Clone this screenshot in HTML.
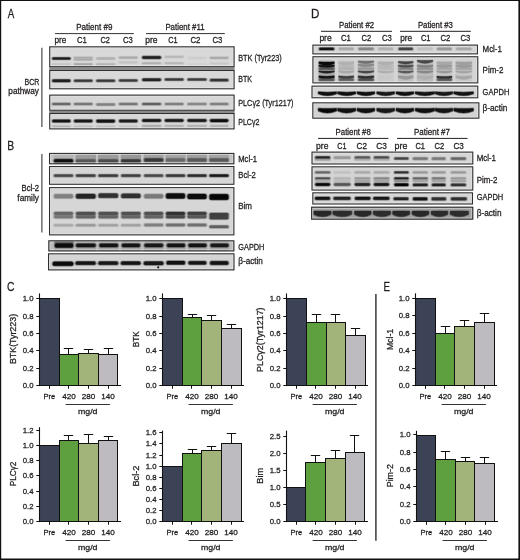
<!DOCTYPE html><html><head><meta charset="utf-8"><style>html,body{margin:0;padding:0;background:#fff;}svg{display:block;}</style></head><body>
<svg width="520" height="560" viewBox="0 0 520 560" style="will-change:transform" font-family='"Liberation Sans", sans-serif'>
<defs>
<filter id="bl80" color-interpolation-filters="sRGB" x="-20%" y="-50%" width="140%" height="200%"><feGaussianBlur stdDeviation="0.8"/></filter>
<filter id="bl90" color-interpolation-filters="sRGB" x="-20%" y="-50%" width="140%" height="200%"><feGaussianBlur stdDeviation="0.9"/></filter>
<filter id="bl100" color-interpolation-filters="sRGB" x="-20%" y="-50%" width="140%" height="200%"><feGaussianBlur stdDeviation="1.0"/></filter>
<filter id="bl120" color-interpolation-filters="sRGB" x="-20%" y="-50%" width="140%" height="200%"><feGaussianBlur stdDeviation="1.2"/></filter>
</defs>
<rect x="0.00" y="0.00" width="520.00" height="560.00" fill="#ffffff" stroke="none" stroke-width="0" />
<rect x="0.00" y="0.00" width="1.20" height="560.00" fill="#111" stroke="none" stroke-width="0" />
<rect x="0.00" y="0.00" width="520.00" height="1.00" fill="#111" stroke="none" stroke-width="0" />
<rect x="518.40" y="0.00" width="1.60" height="560.00" fill="#111" stroke="none" stroke-width="0" />
<rect x="0.00" y="558.50" width="520.00" height="1.50" fill="#111" stroke="none" stroke-width="0" />
<text x="7.80" y="17.60" font-size="12.2" text-anchor="start" fill="#231f20" stroke="#231f20" stroke-width="0.28"  textLength="6.50" lengthAdjust="spacingAndGlyphs">A</text>
<text x="7.20" y="150.20" font-size="12.2" text-anchor="start" fill="#231f20" stroke="#231f20" stroke-width="0.28"  textLength="6.90" lengthAdjust="spacingAndGlyphs">B</text>
<text x="7.00" y="291.00" font-size="12.2" text-anchor="start" fill="#231f20" stroke="#231f20" stroke-width="0.28"  textLength="7.50" lengthAdjust="spacingAndGlyphs">C</text>
<text x="310.90" y="17.60" font-size="12.2" text-anchor="start" fill="#231f20" stroke="#231f20" stroke-width="0.28"  textLength="8.40" lengthAdjust="spacingAndGlyphs">D</text>
<text x="383.60" y="290.80" font-size="12.2" text-anchor="start" fill="#231f20" stroke="#231f20" stroke-width="0.28"  textLength="6.50" lengthAdjust="spacingAndGlyphs">E</text>
<text x="94.35" y="30.30" font-size="8.5" text-anchor="middle" fill="#231f20" stroke="#231f20" stroke-width="0.28"  textLength="36.15" lengthAdjust="spacingAndGlyphs">Patient #9</text>
<text x="185.00" y="30.30" font-size="8.5" text-anchor="middle" fill="#231f20" stroke="#231f20" stroke-width="0.28"  textLength="39.25" lengthAdjust="spacingAndGlyphs">Patient #11</text>
<line x1="55.00" y1="33.60" x2="133.80" y2="33.60" stroke="#333" stroke-width="1"/>
<line x1="146.00" y1="33.60" x2="224.80" y2="33.60" stroke="#333" stroke-width="1"/>
<text x="60.50" y="43.10" font-size="8.5" text-anchor="middle" fill="#231f20" stroke="#231f20" stroke-width="0.28"  textLength="11.85" lengthAdjust="spacingAndGlyphs">pre</text>
<text x="81.80" y="43.10" font-size="8.5" text-anchor="middle" fill="#231f20" stroke="#231f20" stroke-width="0.28"  textLength="9.85" lengthAdjust="spacingAndGlyphs">C1</text>
<text x="105.10" y="43.10" font-size="8.5" text-anchor="middle" fill="#231f20" stroke="#231f20" stroke-width="0.28"  textLength="9.45" lengthAdjust="spacingAndGlyphs">C2</text>
<text x="128.00" y="43.10" font-size="8.5" text-anchor="middle" fill="#231f20" stroke="#231f20" stroke-width="0.28"  textLength="9.85" lengthAdjust="spacingAndGlyphs">C3</text>
<text x="151.30" y="43.10" font-size="8.5" text-anchor="middle" fill="#231f20" stroke="#231f20" stroke-width="0.28"  textLength="12.25" lengthAdjust="spacingAndGlyphs">pre</text>
<text x="173.00" y="43.10" font-size="8.5" text-anchor="middle" fill="#231f20" stroke="#231f20" stroke-width="0.28"  textLength="9.45" lengthAdjust="spacingAndGlyphs">C1</text>
<text x="195.40" y="43.10" font-size="8.5" text-anchor="middle" fill="#231f20" stroke="#231f20" stroke-width="0.28"  textLength="10.05" lengthAdjust="spacingAndGlyphs">C2</text>
<text x="217.40" y="43.10" font-size="8.5" text-anchor="middle" fill="#231f20" stroke="#231f20" stroke-width="0.28"  textLength="9.85" lengthAdjust="spacingAndGlyphs">C3</text>
<rect x="49.20" y="66.60" width="185.40" height="4.00" fill="#8a8a8a" stroke="none" stroke-width="0" />
<rect x="49.20" y="110.20" width="185.40" height="3.20" fill="#8a8a8a" stroke="none" stroke-width="0" />
<clipPath id="c1"><rect x="49.20" y="46.30" width="185.40" height="20.90"/></clipPath>
<rect x="49.20" y="46.30" width="185.40" height="20.90" fill="#d9d9d9" stroke="none" stroke-width="0" />
<g clip-path="url(#c1)"><g>
<rect x="51.00" y="56.40" width="20.70" height="4.20" rx="2.10" fill="#1a1a1a" opacity="0.22"/>
<rect x="51.70" y="56.90" width="19.30" height="3.20" rx="1.60" fill="#1a1a1a" opacity="0.45"/>
<rect x="52.50" y="57.40" width="17.70" height="2.20" rx="1.10" fill="#1a1a1a"/>
<rect x="72.80" y="56.00" width="20.90" height="3.20" rx="1.60" fill="#a8a8a8" opacity="0.22"/>
<rect x="73.50" y="56.50" width="19.50" height="2.20" rx="1.10" fill="#a8a8a8" opacity="0.45"/>
<rect x="74.30" y="57.00" width="17.90" height="1.20" rx="0.60" fill="#a8a8a8"/>
<rect x="95.10" y="56.40" width="21.10" height="4.20" rx="2.10" fill="#b0b0b0" opacity="0.22"/>
<rect x="95.80" y="56.90" width="19.70" height="3.20" rx="1.60" fill="#b0b0b0" opacity="0.45"/>
<rect x="96.60" y="57.40" width="18.10" height="2.20" rx="1.10" fill="#b0b0b0"/>
<rect x="117.80" y="55.70" width="20.90" height="3.80" rx="1.90" fill="#a8a8a8" opacity="0.22"/>
<rect x="118.50" y="56.20" width="19.50" height="2.80" rx="1.40" fill="#a8a8a8" opacity="0.45"/>
<rect x="119.30" y="56.70" width="17.90" height="1.80" rx="0.90" fill="#a8a8a8"/>
<rect x="141.00" y="55.30" width="21.20" height="4.40" rx="2.20" fill="#202020" opacity="0.22"/>
<rect x="141.70" y="55.80" width="19.80" height="3.40" rx="1.70" fill="#202020" opacity="0.45"/>
<rect x="142.50" y="56.30" width="18.20" height="2.40" rx="1.20" fill="#202020"/>
<rect x="163.60" y="55.10" width="21.10" height="3.60" rx="1.80" fill="#b8b8b8" opacity="0.22"/>
<rect x="164.30" y="55.60" width="19.70" height="2.60" rx="1.30" fill="#b8b8b8" opacity="0.45"/>
<rect x="165.10" y="56.10" width="18.10" height="1.60" rx="0.80" fill="#b8b8b8"/>
<rect x="186.30" y="56.30" width="21.40" height="3.40" rx="1.70" fill="#cccccc" opacity="0.22"/>
<rect x="187.00" y="56.80" width="20.00" height="2.40" rx="1.20" fill="#cccccc" opacity="0.45"/>
<rect x="187.80" y="57.30" width="18.40" height="1.40" rx="0.70" fill="#cccccc"/>
<rect x="208.80" y="55.90" width="20.70" height="3.80" rx="1.90" fill="#a8a8a8" opacity="0.22"/>
<rect x="209.50" y="56.40" width="19.30" height="2.80" rx="1.40" fill="#a8a8a8" opacity="0.45"/>
<rect x="210.30" y="56.90" width="17.70" height="1.80" rx="0.90" fill="#a8a8a8"/>
<rect x="72.80" y="57.95" width="20.90" height="3.30" rx="1.65" fill="#a8a8a8" opacity="0.22"/>
<rect x="73.50" y="58.45" width="19.50" height="2.30" rx="1.15" fill="#a8a8a8" opacity="0.45"/>
<rect x="74.30" y="58.95" width="17.90" height="1.30" rx="0.65" fill="#a8a8a8"/>
<rect x="51.00" y="62.40" width="20.70" height="3.60" rx="1.80" fill="#c4c4c4" opacity="0.22"/>
<rect x="51.70" y="62.90" width="19.30" height="2.60" rx="1.30" fill="#c4c4c4" opacity="0.45"/>
<rect x="52.50" y="63.40" width="17.70" height="1.60" rx="0.80" fill="#c4c4c4"/>
<rect x="72.80" y="62.40" width="20.90" height="3.60" rx="1.80" fill="#a8a8a8" opacity="0.22"/>
<rect x="73.50" y="62.90" width="19.50" height="2.60" rx="1.30" fill="#a8a8a8" opacity="0.45"/>
<rect x="74.30" y="63.40" width="17.90" height="1.60" rx="0.80" fill="#a8a8a8"/>
<rect x="95.10" y="62.40" width="21.10" height="3.60" rx="1.80" fill="#b4b4b4" opacity="0.22"/>
<rect x="95.80" y="62.90" width="19.70" height="2.60" rx="1.30" fill="#b4b4b4" opacity="0.45"/>
<rect x="96.60" y="63.40" width="18.10" height="1.60" rx="0.80" fill="#b4b4b4"/>
<rect x="117.80" y="60.60" width="20.90" height="3.60" rx="1.80" fill="#c4c4c4" opacity="0.22"/>
<rect x="118.50" y="61.10" width="19.50" height="2.60" rx="1.30" fill="#c4c4c4" opacity="0.45"/>
<rect x="119.30" y="61.60" width="17.90" height="1.60" rx="0.80" fill="#c4c4c4"/>
<rect x="141.00" y="61.40" width="21.20" height="3.60" rx="1.80" fill="#b0b0b0" opacity="0.22"/>
<rect x="141.70" y="61.90" width="19.80" height="2.60" rx="1.30" fill="#b0b0b0" opacity="0.45"/>
<rect x="142.50" y="62.40" width="18.20" height="1.60" rx="0.80" fill="#b0b0b0"/>
<rect x="163.60" y="61.40" width="21.10" height="3.60" rx="1.80" fill="#b8b8b8" opacity="0.22"/>
<rect x="164.30" y="61.90" width="19.70" height="2.60" rx="1.30" fill="#b8b8b8" opacity="0.45"/>
<rect x="165.10" y="62.40" width="18.10" height="1.60" rx="0.80" fill="#b8b8b8"/>
<rect x="186.30" y="62.50" width="21.40" height="3.40" rx="1.70" fill="#d0d0d0" opacity="0.22"/>
<rect x="187.00" y="63.00" width="20.00" height="2.40" rx="1.20" fill="#d0d0d0" opacity="0.45"/>
<rect x="187.80" y="63.50" width="18.40" height="1.40" rx="0.70" fill="#d0d0d0"/>
<rect x="208.80" y="61.80" width="20.70" height="3.40" rx="1.70" fill="#c8c8c8" opacity="0.22"/>
<rect x="209.50" y="62.30" width="19.30" height="2.40" rx="1.20" fill="#c8c8c8" opacity="0.45"/>
<rect x="210.30" y="62.80" width="17.70" height="1.40" rx="0.70" fill="#c8c8c8"/>
</g></g>
<rect x="50.75" y="47.85" width="182.30" height="17.80" fill="none" stroke="#ececec" stroke-width="0.9" opacity="0.6"/>
<rect x="49.73" y="46.82" width="184.35" height="19.85" fill="none" stroke="#303030" stroke-width="1.05" />
<clipPath id="c2"><rect x="49.20" y="70.00" width="185.40" height="19.30"/></clipPath>
<rect x="49.20" y="70.00" width="185.40" height="19.30" fill="#d9d9d9" stroke="none" stroke-width="0" />
<g clip-path="url(#c2)"><g>
<rect x="51.00" y="78.40" width="20.70" height="4.60" rx="2.30" fill="#202020" opacity="0.22"/>
<rect x="51.70" y="78.90" width="19.30" height="3.60" rx="1.80" fill="#202020" opacity="0.45"/>
<rect x="52.50" y="79.40" width="17.70" height="2.60" rx="1.30" fill="#202020"/>
<rect x="72.80" y="78.70" width="20.90" height="4.00" rx="2.00" fill="#383838" opacity="0.22"/>
<rect x="73.50" y="79.20" width="19.50" height="3.00" rx="1.50" fill="#383838" opacity="0.45"/>
<rect x="74.30" y="79.70" width="17.90" height="2.00" rx="1.00" fill="#383838"/>
<rect x="95.10" y="78.70" width="21.10" height="4.00" rx="2.00" fill="#383838" opacity="0.22"/>
<rect x="95.80" y="79.20" width="19.70" height="3.00" rx="1.50" fill="#383838" opacity="0.45"/>
<rect x="96.60" y="79.70" width="18.10" height="2.00" rx="1.00" fill="#383838"/>
<rect x="117.80" y="78.40" width="20.90" height="4.00" rx="2.00" fill="#3a3a3a" opacity="0.22"/>
<rect x="118.50" y="78.90" width="19.50" height="3.00" rx="1.50" fill="#3a3a3a" opacity="0.45"/>
<rect x="119.30" y="79.40" width="17.90" height="2.00" rx="1.00" fill="#3a3a3a"/>
<rect x="141.00" y="77.40" width="21.20" height="4.60" rx="2.30" fill="#242424" opacity="0.22"/>
<rect x="141.70" y="77.90" width="19.80" height="3.60" rx="1.80" fill="#242424" opacity="0.45"/>
<rect x="142.50" y="78.40" width="18.20" height="2.60" rx="1.30" fill="#242424"/>
<rect x="163.60" y="77.40" width="21.10" height="4.00" rx="2.00" fill="#383838" opacity="0.22"/>
<rect x="164.30" y="77.90" width="19.70" height="3.00" rx="1.50" fill="#383838" opacity="0.45"/>
<rect x="165.10" y="78.40" width="18.10" height="2.00" rx="1.00" fill="#383838"/>
<rect x="186.30" y="77.60" width="21.40" height="4.00" rx="2.00" fill="#3c3c3c" opacity="0.22"/>
<rect x="187.00" y="78.10" width="20.00" height="3.00" rx="1.50" fill="#3c3c3c" opacity="0.45"/>
<rect x="187.80" y="78.60" width="18.40" height="2.00" rx="1.00" fill="#3c3c3c"/>
<rect x="208.80" y="78.10" width="20.70" height="4.20" rx="2.10" fill="#343434" opacity="0.22"/>
<rect x="209.50" y="78.60" width="19.30" height="3.20" rx="1.60" fill="#343434" opacity="0.45"/>
<rect x="210.30" y="79.10" width="17.70" height="2.20" rx="1.10" fill="#343434"/>
</g></g>
<rect x="50.75" y="71.55" width="182.30" height="16.20" fill="none" stroke="#ececec" stroke-width="0.9" opacity="0.6"/>
<rect x="49.73" y="70.53" width="184.35" height="18.25" fill="none" stroke="#303030" stroke-width="1.05" />
<clipPath id="c3"><rect x="49.20" y="94.60" width="185.40" height="16.20"/></clipPath>
<rect x="49.20" y="94.60" width="185.40" height="16.20" fill="#d6d6d6" stroke="none" stroke-width="0" />
<g clip-path="url(#c3)"><g>
<rect x="51.00" y="101.90" width="20.70" height="4.00" rx="2.00" fill="#6a6a6a" opacity="0.22"/>
<rect x="51.70" y="102.40" width="19.30" height="3.00" rx="1.50" fill="#6a6a6a" opacity="0.45"/>
<rect x="52.50" y="102.90" width="17.70" height="2.00" rx="1.00" fill="#6a6a6a"/>
<rect x="72.80" y="101.90" width="20.90" height="4.00" rx="2.00" fill="#787878" opacity="0.22"/>
<rect x="73.50" y="102.40" width="19.50" height="3.00" rx="1.50" fill="#787878" opacity="0.45"/>
<rect x="74.30" y="102.90" width="17.90" height="2.00" rx="1.00" fill="#787878"/>
<rect x="95.10" y="102.40" width="21.10" height="4.00" rx="2.00" fill="#808080" opacity="0.22"/>
<rect x="95.80" y="102.90" width="19.70" height="3.00" rx="1.50" fill="#808080" opacity="0.45"/>
<rect x="96.60" y="103.40" width="18.10" height="2.00" rx="1.00" fill="#808080"/>
<rect x="117.80" y="101.90" width="20.90" height="4.00" rx="2.00" fill="#787878" opacity="0.22"/>
<rect x="118.50" y="102.40" width="19.50" height="3.00" rx="1.50" fill="#787878" opacity="0.45"/>
<rect x="119.30" y="102.90" width="17.90" height="2.00" rx="1.00" fill="#787878"/>
<rect x="141.00" y="101.90" width="21.20" height="4.00" rx="2.00" fill="#606060" opacity="0.22"/>
<rect x="141.70" y="102.40" width="19.80" height="3.00" rx="1.50" fill="#606060" opacity="0.45"/>
<rect x="142.50" y="102.90" width="18.20" height="2.00" rx="1.00" fill="#606060"/>
<rect x="163.60" y="101.90" width="21.10" height="4.00" rx="2.00" fill="#808080" opacity="0.22"/>
<rect x="164.30" y="102.40" width="19.70" height="3.00" rx="1.50" fill="#808080" opacity="0.45"/>
<rect x="165.10" y="102.90" width="18.10" height="2.00" rx="1.00" fill="#808080"/>
<rect x="186.30" y="101.90" width="21.40" height="4.00" rx="2.00" fill="#888888" opacity="0.22"/>
<rect x="187.00" y="102.40" width="20.00" height="3.00" rx="1.50" fill="#888888" opacity="0.45"/>
<rect x="187.80" y="102.90" width="18.40" height="2.00" rx="1.00" fill="#888888"/>
<rect x="208.80" y="101.90" width="20.70" height="4.00" rx="2.00" fill="#808080" opacity="0.22"/>
<rect x="209.50" y="102.40" width="19.30" height="3.00" rx="1.50" fill="#808080" opacity="0.45"/>
<rect x="210.30" y="102.90" width="17.70" height="2.00" rx="1.00" fill="#808080"/>
</g></g>
<rect x="50.75" y="96.15" width="182.30" height="13.10" fill="none" stroke="#ececec" stroke-width="0.9" opacity="0.6"/>
<rect x="49.73" y="95.12" width="184.35" height="15.15" fill="none" stroke="#303030" stroke-width="1.05" />
<clipPath id="c4"><rect x="49.20" y="113.00" width="185.40" height="16.40"/></clipPath>
<rect x="49.20" y="113.00" width="185.40" height="16.40" fill="#d8d8d8" stroke="none" stroke-width="0" />
<g clip-path="url(#c4)"><g>
<rect x="51.00" y="118.65" width="20.70" height="4.50" rx="2.25" fill="#141414" opacity="0.22"/>
<rect x="51.70" y="119.15" width="19.30" height="3.50" rx="1.75" fill="#141414" opacity="0.45"/>
<rect x="52.50" y="119.65" width="17.70" height="2.50" rx="1.25" fill="#141414"/>
<rect x="72.80" y="118.65" width="20.90" height="4.50" rx="2.25" fill="#181818" opacity="0.22"/>
<rect x="73.50" y="119.15" width="19.50" height="3.50" rx="1.75" fill="#181818" opacity="0.45"/>
<rect x="74.30" y="119.65" width="17.90" height="2.50" rx="1.25" fill="#181818"/>
<rect x="95.10" y="118.70" width="21.10" height="4.80" rx="2.40" fill="#141414" opacity="0.22"/>
<rect x="95.80" y="119.20" width="19.70" height="3.80" rx="1.90" fill="#141414" opacity="0.45"/>
<rect x="96.60" y="119.70" width="18.10" height="2.80" rx="1.40" fill="#141414"/>
<rect x="117.80" y="118.65" width="20.90" height="4.50" rx="2.25" fill="#1c1c1c" opacity="0.22"/>
<rect x="118.50" y="119.15" width="19.50" height="3.50" rx="1.75" fill="#1c1c1c" opacity="0.45"/>
<rect x="119.30" y="119.65" width="17.90" height="2.50" rx="1.25" fill="#1c1c1c"/>
<rect x="141.00" y="118.15" width="21.20" height="4.50" rx="2.25" fill="#141414" opacity="0.22"/>
<rect x="141.70" y="118.65" width="19.80" height="3.50" rx="1.75" fill="#141414" opacity="0.45"/>
<rect x="142.50" y="119.15" width="18.20" height="2.50" rx="1.25" fill="#141414"/>
<rect x="163.60" y="118.15" width="21.10" height="4.50" rx="2.25" fill="#181818" opacity="0.22"/>
<rect x="164.30" y="118.65" width="19.70" height="3.50" rx="1.75" fill="#181818" opacity="0.45"/>
<rect x="165.10" y="119.15" width="18.10" height="2.50" rx="1.25" fill="#181818"/>
<rect x="186.30" y="118.15" width="21.40" height="4.50" rx="2.25" fill="#1a1a1a" opacity="0.22"/>
<rect x="187.00" y="118.65" width="20.00" height="3.50" rx="1.75" fill="#1a1a1a" opacity="0.45"/>
<rect x="187.80" y="119.15" width="18.40" height="2.50" rx="1.25" fill="#1a1a1a"/>
<rect x="208.80" y="118.15" width="20.70" height="4.90" rx="2.45" fill="#101010" opacity="0.22"/>
<rect x="209.50" y="118.65" width="19.30" height="3.90" rx="1.95" fill="#101010" opacity="0.45"/>
<rect x="210.30" y="119.15" width="17.70" height="2.90" rx="1.45" fill="#101010"/>
<rect x="51.00" y="124.85" width="20.70" height="3.50" rx="1.75" fill="#b4b4b4" opacity="0.22"/>
<rect x="51.70" y="125.35" width="19.30" height="2.50" rx="1.25" fill="#b4b4b4" opacity="0.45"/>
<rect x="52.50" y="125.85" width="17.70" height="1.50" rx="0.75" fill="#b4b4b4"/>
<rect x="72.80" y="124.85" width="20.90" height="3.50" rx="1.75" fill="#c0c0c0" opacity="0.22"/>
<rect x="73.50" y="125.35" width="19.50" height="2.50" rx="1.25" fill="#c0c0c0" opacity="0.45"/>
<rect x="74.30" y="125.85" width="17.90" height="1.50" rx="0.75" fill="#c0c0c0"/>
<rect x="95.10" y="124.85" width="21.10" height="3.50" rx="1.75" fill="#c0c0c0" opacity="0.22"/>
<rect x="95.80" y="125.35" width="19.70" height="2.50" rx="1.25" fill="#c0c0c0" opacity="0.45"/>
<rect x="96.60" y="125.85" width="18.10" height="1.50" rx="0.75" fill="#c0c0c0"/>
<rect x="117.80" y="124.85" width="20.90" height="3.50" rx="1.75" fill="#c4c4c4" opacity="0.22"/>
<rect x="118.50" y="125.35" width="19.50" height="2.50" rx="1.25" fill="#c4c4c4" opacity="0.45"/>
<rect x="119.30" y="125.85" width="17.90" height="1.50" rx="0.75" fill="#c4c4c4"/>
<rect x="141.00" y="124.25" width="21.20" height="3.50" rx="1.75" fill="#a8a8a8" opacity="0.22"/>
<rect x="141.70" y="124.75" width="19.80" height="2.50" rx="1.25" fill="#a8a8a8" opacity="0.45"/>
<rect x="142.50" y="125.25" width="18.20" height="1.50" rx="0.75" fill="#a8a8a8"/>
<rect x="163.60" y="124.25" width="21.10" height="3.50" rx="1.75" fill="#b0b0b0" opacity="0.22"/>
<rect x="164.30" y="124.75" width="19.70" height="2.50" rx="1.25" fill="#b0b0b0" opacity="0.45"/>
<rect x="165.10" y="125.25" width="18.10" height="1.50" rx="0.75" fill="#b0b0b0"/>
<rect x="186.30" y="124.25" width="21.40" height="3.50" rx="1.75" fill="#b0b0b0" opacity="0.22"/>
<rect x="187.00" y="124.75" width="20.00" height="2.50" rx="1.25" fill="#b0b0b0" opacity="0.45"/>
<rect x="187.80" y="125.25" width="18.40" height="1.50" rx="0.75" fill="#b0b0b0"/>
<rect x="208.80" y="124.25" width="20.70" height="3.50" rx="1.75" fill="#b0b0b0" opacity="0.22"/>
<rect x="209.50" y="124.75" width="19.30" height="2.50" rx="1.25" fill="#b0b0b0" opacity="0.45"/>
<rect x="210.30" y="125.25" width="17.70" height="1.50" rx="0.75" fill="#b0b0b0"/>
</g></g>
<rect x="50.75" y="114.55" width="182.30" height="13.30" fill="none" stroke="#ececec" stroke-width="0.9" opacity="0.6"/>
<rect x="49.73" y="113.53" width="184.35" height="15.35" fill="none" stroke="#303030" stroke-width="1.05" />
<line x1="41.90" y1="47.80" x2="41.90" y2="126.90" stroke="#4a4a4a" stroke-width="1.2"/>
<text x="39.42" y="84.70" font-size="8.5" text-anchor="end" fill="#231f20" stroke="#231f20" stroke-width="0.28"  textLength="14.85" lengthAdjust="spacingAndGlyphs">BCR</text>
<text x="38.92" y="94.30" font-size="8.5" text-anchor="end" fill="#231f20" stroke="#231f20" stroke-width="0.28"  textLength="30.55" lengthAdjust="spacingAndGlyphs">pathway</text>
<text x="238.17" y="61.00" font-size="8.5" text-anchor="start" fill="#231f20" stroke="#231f20" stroke-width="0.28"  textLength="43.65" lengthAdjust="spacingAndGlyphs">BTK (Tyr223)</text>
<text x="238.17" y="82.20" font-size="8.5" text-anchor="start" fill="#231f20" stroke="#231f20" stroke-width="0.28"  textLength="13.85" lengthAdjust="spacingAndGlyphs">BTK</text>
<text x="238.17" y="106.00" font-size="8.5" text-anchor="start" fill="#231f20" stroke="#231f20" stroke-width="0.28"  textLength="55.25" lengthAdjust="spacingAndGlyphs">PLCγ2 (Tyr1217)</text>
<text x="238.17" y="124.50" font-size="8.5" text-anchor="start" fill="#231f20" stroke="#231f20" stroke-width="0.28"  textLength="21.25" lengthAdjust="spacingAndGlyphs">PLCγ2</text>
<clipPath id="c5"><rect x="49.00" y="152.90" width="185.40" height="11.40"/></clipPath>
<rect x="49.00" y="152.90" width="185.40" height="11.40" fill="#c4c4c4" stroke="none" stroke-width="0" />
<g clip-path="url(#c5)"><g>
<rect x="53.50" y="152.90" width="20.00" height="11.40" fill="#b4b4b4" stroke="none" stroke-width="0" rx="2"/>
<rect x="75.50" y="152.90" width="20.50" height="11.40" fill="#9c9c9c" stroke="none" stroke-width="0" rx="2"/>
<rect x="98.00" y="152.90" width="20.50" height="11.40" fill="#9c9c9c" stroke="none" stroke-width="0" rx="2"/>
<rect x="120.80" y="152.90" width="20.20" height="11.40" fill="#989898" stroke="none" stroke-width="0" rx="2"/>
<rect x="143.70" y="152.90" width="19.90" height="11.40" fill="#a0a0a0" stroke="none" stroke-width="0" rx="2"/>
<rect x="165.50" y="152.90" width="20.00" height="11.40" fill="#a4a4a4" stroke="none" stroke-width="0" rx="2"/>
<rect x="187.00" y="152.90" width="20.00" height="11.40" fill="#a0a0a0" stroke="none" stroke-width="0" rx="2"/>
<rect x="209.00" y="152.90" width="20.00" height="11.40" fill="#a4a4a4" stroke="none" stroke-width="0" rx="2"/>
<rect x="52.70" y="158.30" width="21.60" height="5.60" rx="2.80" fill="#101010" opacity="0.22"/>
<rect x="53.40" y="158.80" width="20.20" height="4.60" rx="2.30" fill="#101010" opacity="0.45"/>
<rect x="54.20" y="159.30" width="18.60" height="3.60" rx="1.50" fill="#101010"/>
<rect x="74.70" y="158.40" width="22.10" height="5.00" rx="2.50" fill="#585858" opacity="0.22"/>
<rect x="75.40" y="158.90" width="20.70" height="4.00" rx="2.00" fill="#585858" opacity="0.45"/>
<rect x="76.20" y="159.40" width="19.10" height="3.00" rx="1.50" fill="#585858"/>
<rect x="97.20" y="158.40" width="22.10" height="5.00" rx="2.50" fill="#4c4c4c" opacity="0.22"/>
<rect x="97.90" y="158.90" width="20.70" height="4.00" rx="2.00" fill="#4c4c4c" opacity="0.45"/>
<rect x="98.70" y="159.40" width="19.10" height="3.00" rx="1.50" fill="#4c4c4c"/>
<rect x="120.00" y="158.40" width="21.80" height="5.00" rx="2.50" fill="#383838" opacity="0.22"/>
<rect x="120.70" y="158.90" width="20.40" height="4.00" rx="2.00" fill="#383838" opacity="0.45"/>
<rect x="121.50" y="159.40" width="18.80" height="3.00" rx="1.50" fill="#383838"/>
<rect x="142.90" y="157.60" width="21.50" height="5.00" rx="2.50" fill="#383838" opacity="0.22"/>
<rect x="143.60" y="158.10" width="20.10" height="4.00" rx="2.00" fill="#383838" opacity="0.45"/>
<rect x="144.40" y="158.60" width="18.50" height="3.00" rx="1.50" fill="#383838"/>
<rect x="164.70" y="157.60" width="21.60" height="5.00" rx="2.50" fill="#686868" opacity="0.22"/>
<rect x="165.40" y="158.10" width="20.20" height="4.00" rx="2.00" fill="#686868" opacity="0.45"/>
<rect x="166.20" y="158.60" width="18.60" height="3.00" rx="1.50" fill="#686868"/>
<rect x="186.20" y="157.60" width="21.60" height="5.00" rx="2.50" fill="#585858" opacity="0.22"/>
<rect x="186.90" y="158.10" width="20.20" height="4.00" rx="2.00" fill="#585858" opacity="0.45"/>
<rect x="187.70" y="158.60" width="18.60" height="3.00" rx="1.50" fill="#585858"/>
<rect x="208.20" y="157.60" width="21.60" height="5.00" rx="2.50" fill="#585858" opacity="0.22"/>
<rect x="208.90" y="158.10" width="20.20" height="4.00" rx="2.00" fill="#585858" opacity="0.45"/>
<rect x="209.70" y="158.60" width="18.60" height="3.00" rx="1.50" fill="#585858"/>
</g></g>
<rect x="50.55" y="154.45" width="182.30" height="8.30" fill="none" stroke="#ececec" stroke-width="0.9" opacity="0.6"/>
<rect x="49.52" y="153.43" width="184.35" height="10.35" fill="none" stroke="#303030" stroke-width="1.05" />
<clipPath id="c6"><rect x="49.00" y="166.00" width="185.40" height="18.80"/></clipPath>
<rect x="49.00" y="166.00" width="185.40" height="18.80" fill="#d6d6d6" stroke="none" stroke-width="0" />
<g clip-path="url(#c6)"><g>
<rect x="52.70" y="173.60" width="21.60" height="4.20" rx="2.10" fill="#484848" opacity="0.22"/>
<rect x="53.40" y="174.10" width="20.20" height="3.20" rx="1.60" fill="#484848" opacity="0.45"/>
<rect x="54.20" y="174.60" width="18.60" height="2.20" rx="1.10" fill="#484848"/>
<rect x="74.70" y="173.60" width="22.10" height="4.20" rx="2.10" fill="#404040" opacity="0.22"/>
<rect x="75.40" y="174.10" width="20.70" height="3.20" rx="1.60" fill="#404040" opacity="0.45"/>
<rect x="76.20" y="174.60" width="19.10" height="2.20" rx="1.10" fill="#404040"/>
<rect x="97.20" y="173.60" width="22.10" height="4.20" rx="2.10" fill="#3c3c3c" opacity="0.22"/>
<rect x="97.90" y="174.10" width="20.70" height="3.20" rx="1.60" fill="#3c3c3c" opacity="0.45"/>
<rect x="98.70" y="174.60" width="19.10" height="2.20" rx="1.10" fill="#3c3c3c"/>
<rect x="120.00" y="173.60" width="21.80" height="4.20" rx="2.10" fill="#404040" opacity="0.22"/>
<rect x="120.70" y="174.10" width="20.40" height="3.20" rx="1.60" fill="#404040" opacity="0.45"/>
<rect x="121.50" y="174.60" width="18.80" height="2.20" rx="1.10" fill="#404040"/>
<rect x="142.90" y="173.60" width="21.50" height="4.20" rx="2.10" fill="#484848" opacity="0.22"/>
<rect x="143.60" y="174.10" width="20.10" height="3.20" rx="1.60" fill="#484848" opacity="0.45"/>
<rect x="144.40" y="174.60" width="18.50" height="2.20" rx="1.10" fill="#484848"/>
<rect x="164.70" y="173.60" width="21.60" height="4.20" rx="2.10" fill="#383838" opacity="0.22"/>
<rect x="165.40" y="174.10" width="20.20" height="3.20" rx="1.60" fill="#383838" opacity="0.45"/>
<rect x="166.20" y="174.60" width="18.60" height="2.20" rx="1.10" fill="#383838"/>
<rect x="186.20" y="173.60" width="21.60" height="4.20" rx="2.10" fill="#2c2c2c" opacity="0.22"/>
<rect x="186.90" y="174.10" width="20.20" height="3.20" rx="1.60" fill="#2c2c2c" opacity="0.45"/>
<rect x="187.70" y="174.60" width="18.60" height="2.20" rx="1.10" fill="#2c2c2c"/>
<rect x="208.20" y="173.60" width="21.60" height="4.20" rx="2.10" fill="#181818" opacity="0.22"/>
<rect x="208.90" y="174.10" width="20.20" height="3.20" rx="1.60" fill="#181818" opacity="0.45"/>
<rect x="209.70" y="174.60" width="18.60" height="2.20" rx="1.10" fill="#181818"/>
</g></g>
<rect x="50.55" y="167.55" width="182.30" height="15.70" fill="none" stroke="#ececec" stroke-width="0.9" opacity="0.6"/>
<rect x="49.52" y="166.53" width="184.35" height="17.75" fill="none" stroke="#303030" stroke-width="1.05" />
<clipPath id="c7"><rect x="49.00" y="187.10" width="185.40" height="48.30"/></clipPath>
<rect x="49.00" y="187.10" width="185.40" height="48.30" fill="#d6d6d6" stroke="none" stroke-width="0" />
<g clip-path="url(#c7)"><g>
<rect x="52.70" y="193.20" width="21.60" height="6.00" rx="3.00" fill="#808080" opacity="0.22"/>
<rect x="53.40" y="193.70" width="20.20" height="5.00" rx="2.50" fill="#808080" opacity="0.45"/>
<rect x="54.20" y="194.20" width="18.60" height="4.00" rx="1.50" fill="#808080"/>
<rect x="74.70" y="193.00" width="22.10" height="6.40" rx="3.00" fill="#242424" opacity="0.22"/>
<rect x="75.40" y="193.50" width="20.70" height="5.40" rx="2.70" fill="#242424" opacity="0.45"/>
<rect x="76.20" y="194.00" width="19.10" height="4.40" rx="1.50" fill="#242424"/>
<rect x="97.20" y="192.60" width="22.10" height="6.20" rx="3.00" fill="#303030" opacity="0.22"/>
<rect x="97.90" y="193.10" width="20.70" height="5.20" rx="2.60" fill="#303030" opacity="0.45"/>
<rect x="98.70" y="193.60" width="19.10" height="4.20" rx="1.50" fill="#303030"/>
<rect x="120.00" y="192.80" width="21.80" height="6.20" rx="3.00" fill="#303030" opacity="0.22"/>
<rect x="120.70" y="193.30" width="20.40" height="5.20" rx="2.60" fill="#303030" opacity="0.45"/>
<rect x="121.50" y="193.80" width="18.80" height="4.20" rx="1.50" fill="#303030"/>
<rect x="142.90" y="193.20" width="21.50" height="6.00" rx="3.00" fill="#787878" opacity="0.22"/>
<rect x="143.60" y="193.70" width="20.10" height="5.00" rx="2.50" fill="#787878" opacity="0.45"/>
<rect x="144.40" y="194.20" width="18.50" height="4.00" rx="1.50" fill="#787878"/>
<rect x="164.70" y="192.40" width="21.60" height="7.00" rx="3.00" fill="#0c0c0c" opacity="0.22"/>
<rect x="165.40" y="192.90" width="20.20" height="6.00" rx="3.00" fill="#0c0c0c" opacity="0.45"/>
<rect x="166.20" y="193.40" width="18.60" height="5.00" rx="1.50" fill="#0c0c0c"/>
<rect x="186.20" y="193.00" width="21.60" height="7.00" rx="3.00" fill="#0c0c0c" opacity="0.22"/>
<rect x="186.90" y="193.50" width="20.20" height="6.00" rx="3.00" fill="#0c0c0c" opacity="0.45"/>
<rect x="187.70" y="194.00" width="18.60" height="5.00" rx="1.50" fill="#0c0c0c"/>
<rect x="208.20" y="193.20" width="21.60" height="7.60" rx="3.00" fill="#060606" opacity="0.22"/>
<rect x="208.90" y="193.70" width="20.20" height="6.60" rx="3.00" fill="#060606" opacity="0.45"/>
<rect x="209.70" y="194.20" width="18.60" height="5.60" rx="1.50" fill="#060606"/>
<rect x="52.70" y="211.10" width="21.60" height="5.00" rx="2.50" fill="#666666" opacity="0.22"/>
<rect x="53.40" y="211.60" width="20.20" height="4.00" rx="2.00" fill="#666666" opacity="0.45"/>
<rect x="54.20" y="212.10" width="18.60" height="3.00" rx="1.50" fill="#666666"/>
<rect x="74.70" y="211.10" width="22.10" height="5.00" rx="2.50" fill="#505050" opacity="0.22"/>
<rect x="75.40" y="211.60" width="20.70" height="4.00" rx="2.00" fill="#505050" opacity="0.45"/>
<rect x="76.20" y="212.10" width="19.10" height="3.00" rx="1.50" fill="#505050"/>
<rect x="97.20" y="211.10" width="22.10" height="5.00" rx="2.50" fill="#505050" opacity="0.22"/>
<rect x="97.90" y="211.60" width="20.70" height="4.00" rx="2.00" fill="#505050" opacity="0.45"/>
<rect x="98.70" y="212.10" width="19.10" height="3.00" rx="1.50" fill="#505050"/>
<rect x="120.00" y="211.10" width="21.80" height="5.00" rx="2.50" fill="#505050" opacity="0.22"/>
<rect x="120.70" y="211.60" width="20.40" height="4.00" rx="2.00" fill="#505050" opacity="0.45"/>
<rect x="121.50" y="212.10" width="18.80" height="3.00" rx="1.50" fill="#505050"/>
<rect x="142.90" y="211.10" width="21.50" height="5.00" rx="2.50" fill="#505050" opacity="0.22"/>
<rect x="143.60" y="211.60" width="20.10" height="4.00" rx="2.00" fill="#505050" opacity="0.45"/>
<rect x="144.40" y="212.10" width="18.50" height="3.00" rx="1.50" fill="#505050"/>
<rect x="164.70" y="211.10" width="21.60" height="5.00" rx="2.50" fill="#303030" opacity="0.22"/>
<rect x="165.40" y="211.60" width="20.20" height="4.00" rx="2.00" fill="#303030" opacity="0.45"/>
<rect x="166.20" y="212.10" width="18.60" height="3.00" rx="1.50" fill="#303030"/>
<rect x="186.20" y="211.10" width="21.60" height="5.00" rx="2.50" fill="#404040" opacity="0.22"/>
<rect x="186.90" y="211.60" width="20.20" height="4.00" rx="2.00" fill="#404040" opacity="0.45"/>
<rect x="187.70" y="212.10" width="18.60" height="3.00" rx="1.50" fill="#404040"/>
<rect x="208.20" y="211.90" width="21.60" height="5.00" rx="2.50" fill="#404040" opacity="0.22"/>
<rect x="208.90" y="212.40" width="20.20" height="4.00" rx="2.00" fill="#404040" opacity="0.45"/>
<rect x="209.70" y="212.90" width="18.60" height="3.00" rx="1.50" fill="#404040"/>
<rect x="52.70" y="214.20" width="21.60" height="5.00" rx="2.50" fill="#787878" opacity="0.22"/>
<rect x="53.40" y="214.70" width="20.20" height="4.00" rx="2.00" fill="#787878" opacity="0.45"/>
<rect x="54.20" y="215.20" width="18.60" height="3.00" rx="1.50" fill="#787878"/>
<rect x="74.70" y="214.20" width="22.10" height="5.00" rx="2.50" fill="#646464" opacity="0.22"/>
<rect x="75.40" y="214.70" width="20.70" height="4.00" rx="2.00" fill="#646464" opacity="0.45"/>
<rect x="76.20" y="215.20" width="19.10" height="3.00" rx="1.50" fill="#646464"/>
<rect x="97.20" y="214.20" width="22.10" height="5.00" rx="2.50" fill="#646464" opacity="0.22"/>
<rect x="97.90" y="214.70" width="20.70" height="4.00" rx="2.00" fill="#646464" opacity="0.45"/>
<rect x="98.70" y="215.20" width="19.10" height="3.00" rx="1.50" fill="#646464"/>
<rect x="120.00" y="214.20" width="21.80" height="5.00" rx="2.50" fill="#646464" opacity="0.22"/>
<rect x="120.70" y="214.70" width="20.40" height="4.00" rx="2.00" fill="#646464" opacity="0.45"/>
<rect x="121.50" y="215.20" width="18.80" height="3.00" rx="1.50" fill="#646464"/>
<rect x="142.90" y="214.20" width="21.50" height="5.00" rx="2.50" fill="#646464" opacity="0.22"/>
<rect x="143.60" y="214.70" width="20.10" height="4.00" rx="2.00" fill="#646464" opacity="0.45"/>
<rect x="144.40" y="215.20" width="18.50" height="3.00" rx="1.50" fill="#646464"/>
<rect x="164.70" y="214.20" width="21.60" height="5.00" rx="2.50" fill="#484848" opacity="0.22"/>
<rect x="165.40" y="214.70" width="20.20" height="4.00" rx="2.00" fill="#484848" opacity="0.45"/>
<rect x="166.20" y="215.20" width="18.60" height="3.00" rx="1.50" fill="#484848"/>
<rect x="186.20" y="214.20" width="21.60" height="5.00" rx="2.50" fill="#585858" opacity="0.22"/>
<rect x="186.90" y="214.70" width="20.20" height="4.00" rx="2.00" fill="#585858" opacity="0.45"/>
<rect x="187.70" y="215.20" width="18.60" height="3.00" rx="1.50" fill="#585858"/>
<rect x="208.20" y="214.80" width="21.60" height="5.40" rx="2.70" fill="#404040" opacity="0.22"/>
<rect x="208.90" y="215.30" width="20.20" height="4.40" rx="2.20" fill="#404040" opacity="0.45"/>
<rect x="209.70" y="215.80" width="18.60" height="3.40" rx="1.50" fill="#404040"/>
<rect x="52.70" y="223.30" width="21.60" height="4.00" rx="2.00" fill="#a8a8a8" opacity="0.22"/>
<rect x="53.40" y="223.80" width="20.20" height="3.00" rx="1.50" fill="#a8a8a8" opacity="0.45"/>
<rect x="54.20" y="224.30" width="18.60" height="2.00" rx="1.00" fill="#a8a8a8"/>
<rect x="74.70" y="223.30" width="22.10" height="4.00" rx="2.00" fill="#989898" opacity="0.22"/>
<rect x="75.40" y="223.80" width="20.70" height="3.00" rx="1.50" fill="#989898" opacity="0.45"/>
<rect x="76.20" y="224.30" width="19.10" height="2.00" rx="1.00" fill="#989898"/>
<rect x="97.20" y="223.30" width="22.10" height="4.00" rx="2.00" fill="#a0a0a0" opacity="0.22"/>
<rect x="97.90" y="223.80" width="20.70" height="3.00" rx="1.50" fill="#a0a0a0" opacity="0.45"/>
<rect x="98.70" y="224.30" width="19.10" height="2.00" rx="1.00" fill="#a0a0a0"/>
<rect x="120.00" y="223.30" width="21.80" height="4.00" rx="2.00" fill="#a0a0a0" opacity="0.22"/>
<rect x="120.70" y="223.80" width="20.40" height="3.00" rx="1.50" fill="#a0a0a0" opacity="0.45"/>
<rect x="121.50" y="224.30" width="18.80" height="2.00" rx="1.00" fill="#a0a0a0"/>
<rect x="142.90" y="222.80" width="21.50" height="4.40" rx="2.20" fill="#808080" opacity="0.22"/>
<rect x="143.60" y="223.30" width="20.10" height="3.40" rx="1.70" fill="#808080" opacity="0.45"/>
<rect x="144.40" y="223.80" width="18.50" height="2.40" rx="1.20" fill="#808080"/>
<rect x="164.70" y="222.80" width="21.60" height="4.40" rx="2.20" fill="#707070" opacity="0.22"/>
<rect x="165.40" y="223.30" width="20.20" height="3.40" rx="1.70" fill="#707070" opacity="0.45"/>
<rect x="166.20" y="223.80" width="18.60" height="2.40" rx="1.20" fill="#707070"/>
<rect x="186.20" y="222.80" width="21.60" height="4.40" rx="2.20" fill="#707070" opacity="0.22"/>
<rect x="186.90" y="223.30" width="20.20" height="3.40" rx="1.70" fill="#707070" opacity="0.45"/>
<rect x="187.70" y="223.80" width="18.60" height="2.40" rx="1.20" fill="#707070"/>
<rect x="208.20" y="224.50" width="21.60" height="4.60" rx="2.30" fill="#606060" opacity="0.22"/>
<rect x="208.90" y="225.00" width="20.20" height="3.60" rx="1.80" fill="#606060" opacity="0.45"/>
<rect x="209.70" y="225.50" width="18.60" height="2.60" rx="1.30" fill="#606060"/>
</g></g>
<rect x="50.55" y="188.65" width="182.30" height="45.20" fill="none" stroke="#ececec" stroke-width="0.9" opacity="0.6"/>
<rect x="49.52" y="187.62" width="184.35" height="47.25" fill="none" stroke="#303030" stroke-width="1.05" />
<clipPath id="c8"><rect x="48.30" y="240.30" width="186.10" height="11.10"/></clipPath>
<rect x="48.30" y="240.30" width="186.10" height="11.10" fill="#bcbcbc" stroke="none" stroke-width="0" />
<g clip-path="url(#c8)"><g>
<rect x="54.30" y="240.30" width="19.40" height="11.10" fill="#a6a6a6" stroke="none" stroke-width="0" rx="2"/>
<rect x="75.60" y="240.30" width="20.50" height="11.10" fill="#a6a6a6" stroke="none" stroke-width="0" rx="2"/>
<rect x="98.90" y="240.30" width="19.60" height="11.10" fill="#a6a6a6" stroke="none" stroke-width="0" rx="2"/>
<rect x="121.40" y="240.30" width="19.10" height="11.10" fill="#a6a6a6" stroke="none" stroke-width="0" rx="2"/>
<rect x="144.00" y="240.30" width="19.50" height="11.10" fill="#a6a6a6" stroke="none" stroke-width="0" rx="2"/>
<rect x="166.50" y="240.30" width="19.00" height="11.10" fill="#a6a6a6" stroke="none" stroke-width="0" rx="2"/>
<rect x="188.00" y="240.30" width="19.00" height="11.10" fill="#a6a6a6" stroke="none" stroke-width="0" rx="2"/>
<rect x="210.00" y="240.30" width="19.00" height="11.10" fill="#a6a6a6" stroke="none" stroke-width="0" rx="2"/>
<rect x="53.50" y="240.40" width="21.00" height="3.60" rx="1.80" fill="#505050" opacity="0.22"/>
<rect x="54.20" y="240.90" width="19.60" height="2.60" rx="1.30" fill="#505050" opacity="0.45"/>
<rect x="55.00" y="241.40" width="18.00" height="1.60" rx="0.80" fill="#505050"/>
<rect x="53.50" y="242.60" width="21.00" height="5.80" rx="2.90" fill="#0c0c0c" opacity="0.22"/>
<rect x="54.20" y="243.10" width="19.60" height="4.80" rx="2.40" fill="#0c0c0c" opacity="0.45"/>
<rect x="55.00" y="243.60" width="18.00" height="3.80" rx="1.50" fill="#0c0c0c"/>
<rect x="74.80" y="242.70" width="22.10" height="5.20" rx="2.60" fill="#141414" opacity="0.22"/>
<rect x="75.50" y="243.20" width="20.70" height="4.20" rx="2.10" fill="#141414" opacity="0.45"/>
<rect x="76.30" y="243.70" width="19.10" height="3.20" rx="1.50" fill="#141414"/>
<rect x="98.10" y="242.70" width="21.20" height="5.20" rx="2.60" fill="#141414" opacity="0.22"/>
<rect x="98.80" y="243.20" width="19.80" height="4.20" rx="2.10" fill="#141414" opacity="0.45"/>
<rect x="99.60" y="243.70" width="18.20" height="3.20" rx="1.50" fill="#141414"/>
<rect x="120.60" y="242.70" width="20.70" height="5.20" rx="2.60" fill="#141414" opacity="0.22"/>
<rect x="121.30" y="243.20" width="19.30" height="4.20" rx="2.10" fill="#141414" opacity="0.45"/>
<rect x="122.10" y="243.70" width="17.70" height="3.20" rx="1.50" fill="#141414"/>
<rect x="143.20" y="242.70" width="21.10" height="5.20" rx="2.60" fill="#181818" opacity="0.22"/>
<rect x="143.90" y="243.20" width="19.70" height="4.20" rx="2.10" fill="#181818" opacity="0.45"/>
<rect x="144.70" y="243.70" width="18.10" height="3.20" rx="1.50" fill="#181818"/>
<rect x="165.70" y="242.70" width="20.60" height="5.20" rx="2.60" fill="#141414" opacity="0.22"/>
<rect x="166.40" y="243.20" width="19.20" height="4.20" rx="2.10" fill="#141414" opacity="0.45"/>
<rect x="167.20" y="243.70" width="17.60" height="3.20" rx="1.50" fill="#141414"/>
<rect x="187.20" y="242.70" width="20.60" height="5.20" rx="2.60" fill="#141414" opacity="0.22"/>
<rect x="187.90" y="243.20" width="19.20" height="4.20" rx="2.10" fill="#141414" opacity="0.45"/>
<rect x="188.70" y="243.70" width="17.60" height="3.20" rx="1.50" fill="#141414"/>
<rect x="209.20" y="242.70" width="20.60" height="5.20" rx="2.60" fill="#181818" opacity="0.22"/>
<rect x="209.90" y="243.20" width="19.20" height="4.20" rx="2.10" fill="#181818" opacity="0.45"/>
<rect x="210.70" y="243.70" width="17.60" height="3.20" rx="1.50" fill="#181818"/>
</g></g>
<rect x="49.85" y="241.85" width="183.00" height="8.00" fill="none" stroke="#ececec" stroke-width="0.9" opacity="0.6"/>
<rect x="48.82" y="240.83" width="185.05" height="10.05" fill="none" stroke="#303030" stroke-width="1.05" />
<clipPath id="c9"><rect x="48.00" y="253.30" width="186.50" height="17.10"/></clipPath>
<rect x="48.00" y="253.30" width="186.50" height="17.10" fill="#d4d4d4" stroke="none" stroke-width="0" />
<g clip-path="url(#c9)"><g>
<rect x="51.40" y="260.70" width="23.10" height="6.00" rx="3.00" fill="#0c0c0c" opacity="0.22"/>
<rect x="52.10" y="261.20" width="21.70" height="5.00" rx="2.50" fill="#0c0c0c" opacity="0.45"/>
<rect x="52.90" y="261.70" width="20.10" height="4.00" rx="1.50" fill="#0c0c0c"/>
<rect x="74.30" y="260.60" width="22.60" height="5.20" rx="2.60" fill="#141414" opacity="0.22"/>
<rect x="75.00" y="261.10" width="21.20" height="4.20" rx="2.10" fill="#141414" opacity="0.45"/>
<rect x="75.80" y="261.60" width="19.60" height="3.20" rx="1.50" fill="#141414"/>
<rect x="97.10" y="260.60" width="22.20" height="5.20" rx="2.60" fill="#181818" opacity="0.22"/>
<rect x="97.80" y="261.10" width="20.80" height="4.20" rx="2.10" fill="#181818" opacity="0.45"/>
<rect x="98.60" y="261.60" width="19.20" height="3.20" rx="1.50" fill="#181818"/>
<rect x="119.70" y="260.60" width="22.10" height="5.20" rx="2.60" fill="#141414" opacity="0.22"/>
<rect x="120.40" y="261.10" width="20.70" height="4.20" rx="2.10" fill="#141414" opacity="0.45"/>
<rect x="121.20" y="261.60" width="19.10" height="3.20" rx="1.50" fill="#141414"/>
<rect x="142.50" y="260.40" width="22.20" height="5.60" rx="2.80" fill="#181818" opacity="0.22"/>
<rect x="143.20" y="260.90" width="20.80" height="4.60" rx="2.30" fill="#181818" opacity="0.45"/>
<rect x="144.00" y="261.40" width="19.20" height="3.60" rx="1.50" fill="#181818"/>
<rect x="165.20" y="260.00" width="21.20" height="5.60" rx="2.80" fill="#101010" opacity="0.22"/>
<rect x="165.90" y="260.50" width="19.80" height="4.60" rx="2.30" fill="#101010" opacity="0.45"/>
<rect x="166.70" y="261.00" width="18.20" height="3.60" rx="1.50" fill="#101010"/>
<rect x="187.10" y="260.20" width="20.50" height="5.20" rx="2.60" fill="#141414" opacity="0.22"/>
<rect x="187.80" y="260.70" width="19.10" height="4.20" rx="2.10" fill="#141414" opacity="0.45"/>
<rect x="188.60" y="261.20" width="17.50" height="3.20" rx="1.50" fill="#141414"/>
<rect x="208.80" y="260.30" width="20.90" height="5.40" rx="2.70" fill="#141414" opacity="0.22"/>
<rect x="209.50" y="260.80" width="19.50" height="4.40" rx="2.20" fill="#141414" opacity="0.45"/>
<rect x="210.30" y="261.30" width="17.90" height="3.40" rx="1.50" fill="#141414"/>
</g></g>
<rect x="49.55" y="254.85" width="183.40" height="14.00" fill="none" stroke="#ececec" stroke-width="0.9" opacity="0.6"/>
<rect x="48.52" y="253.83" width="185.45" height="16.05" fill="none" stroke="#303030" stroke-width="1.05" />
<circle cx="158.2" cy="267.3" r="1.1" fill="#111"/>
<line x1="41.90" y1="153.90" x2="41.90" y2="232.60" stroke="#4a4a4a" stroke-width="1.2"/>
<text x="39.12" y="190.80" font-size="8.5" text-anchor="end" fill="#231f20" stroke="#231f20" stroke-width="0.28"  textLength="17.65" lengthAdjust="spacingAndGlyphs">Bcl-2</text>
<text x="38.92" y="200.70" font-size="8.5" text-anchor="end" fill="#231f20" stroke="#231f20" stroke-width="0.28"  textLength="21.55" lengthAdjust="spacingAndGlyphs">family</text>
<text x="238.27" y="162.00" font-size="8.5" text-anchor="start" fill="#231f20" stroke="#231f20" stroke-width="0.28"  textLength="18.65" lengthAdjust="spacingAndGlyphs">Mcl-1</text>
<text x="238.27" y="178.00" font-size="8.5" text-anchor="start" fill="#231f20" stroke="#231f20" stroke-width="0.28"  textLength="17.55" lengthAdjust="spacingAndGlyphs">Bcl-2</text>
<text x="238.27" y="209.40" font-size="8.5" text-anchor="start" fill="#231f20" stroke="#231f20" stroke-width="0.28"  textLength="13.75" lengthAdjust="spacingAndGlyphs">Bim</text>
<text x="238.27" y="249.80" font-size="8.5" text-anchor="start" fill="#231f20" stroke="#231f20" stroke-width="0.28"  textLength="26.15" lengthAdjust="spacingAndGlyphs">GAPDH</text>
<text x="238.27" y="263.80" font-size="8.5" text-anchor="start" fill="#231f20" stroke="#231f20" stroke-width="0.28"  textLength="24.65" lengthAdjust="spacingAndGlyphs">β-actin</text>
<text x="356.55" y="27.50" font-size="8.5" text-anchor="middle" fill="#231f20" stroke="#231f20" stroke-width="0.28"  textLength="35.15" lengthAdjust="spacingAndGlyphs">Patient #2</text>
<text x="435.40" y="27.50" font-size="8.5" text-anchor="middle" fill="#231f20" stroke="#231f20" stroke-width="0.28"  textLength="35.05" lengthAdjust="spacingAndGlyphs">Patient #3</text>
<line x1="321.00" y1="31.30" x2="392.00" y2="31.30" stroke="#231f20" stroke-width="1"/>
<line x1="400.00" y1="31.30" x2="470.80" y2="31.30" stroke="#231f20" stroke-width="1"/>
<text x="325.55" y="41.10" font-size="8.5" text-anchor="middle" fill="#231f20" stroke="#231f20" stroke-width="0.28"  textLength="12.35" lengthAdjust="spacingAndGlyphs">pre</text>
<text x="345.85" y="41.10" font-size="8.5" text-anchor="middle" fill="#231f20" stroke="#231f20" stroke-width="0.28"  textLength="9.95" lengthAdjust="spacingAndGlyphs">C1</text>
<text x="366.40" y="41.10" font-size="8.5" text-anchor="middle" fill="#231f20" stroke="#231f20" stroke-width="0.28"  textLength="9.65" lengthAdjust="spacingAndGlyphs">C2</text>
<text x="386.80" y="41.10" font-size="8.5" text-anchor="middle" fill="#231f20" stroke="#231f20" stroke-width="0.28"  textLength="9.85" lengthAdjust="spacingAndGlyphs">C3</text>
<text x="406.15" y="41.10" font-size="8.5" text-anchor="middle" fill="#231f20" stroke="#231f20" stroke-width="0.28"  textLength="11.95" lengthAdjust="spacingAndGlyphs">pre</text>
<text x="425.65" y="41.10" font-size="8.5" text-anchor="middle" fill="#231f20" stroke="#231f20" stroke-width="0.28"  textLength="9.55" lengthAdjust="spacingAndGlyphs">C1</text>
<text x="445.50" y="41.10" font-size="8.5" text-anchor="middle" fill="#231f20" stroke="#231f20" stroke-width="0.28"  textLength="9.85" lengthAdjust="spacingAndGlyphs">C2</text>
<text x="465.30" y="41.10" font-size="8.5" text-anchor="middle" fill="#231f20" stroke="#231f20" stroke-width="0.28"  textLength="9.85" lengthAdjust="spacingAndGlyphs">C3</text>
<clipPath id="c10"><rect x="312.40" y="44.60" width="165.60" height="9.80"/></clipPath>
<rect x="312.40" y="44.60" width="165.60" height="9.80" fill="#d6d6d6" stroke="none" stroke-width="0" />
<g clip-path="url(#c10)"><g>
<rect x="317.90" y="46.70" width="17.40" height="4.40" rx="2.20" fill="#141414" opacity="0.22"/>
<rect x="318.60" y="47.20" width="16.00" height="3.40" rx="1.70" fill="#141414" opacity="0.45"/>
<rect x="319.40" y="47.70" width="14.40" height="2.40" rx="1.20" fill="#141414"/>
<rect x="337.70" y="46.70" width="17.10" height="4.40" rx="2.20" fill="#a8a8a8" opacity="0.22"/>
<rect x="338.40" y="47.20" width="15.70" height="3.40" rx="1.70" fill="#a8a8a8" opacity="0.45"/>
<rect x="339.20" y="47.70" width="14.10" height="2.40" rx="1.20" fill="#a8a8a8"/>
<rect x="357.20" y="46.70" width="17.60" height="4.40" rx="2.20" fill="#888888" opacity="0.22"/>
<rect x="357.90" y="47.20" width="16.20" height="3.40" rx="1.70" fill="#888888" opacity="0.45"/>
<rect x="358.70" y="47.70" width="14.60" height="2.40" rx="1.20" fill="#888888"/>
<rect x="377.00" y="46.70" width="17.30" height="4.40" rx="2.20" fill="#b0b0b0" opacity="0.22"/>
<rect x="377.70" y="47.20" width="15.90" height="3.40" rx="1.70" fill="#b0b0b0" opacity="0.45"/>
<rect x="378.50" y="47.70" width="14.30" height="2.40" rx="1.20" fill="#b0b0b0"/>
<rect x="397.30" y="46.70" width="16.80" height="4.40" rx="2.20" fill="#444444" opacity="0.22"/>
<rect x="398.00" y="47.20" width="15.40" height="3.40" rx="1.70" fill="#444444" opacity="0.45"/>
<rect x="398.80" y="47.70" width="13.80" height="2.40" rx="1.20" fill="#444444"/>
<rect x="416.30" y="46.70" width="17.50" height="4.40" rx="2.20" fill="#c0c0c0" opacity="0.22"/>
<rect x="417.00" y="47.20" width="16.10" height="3.40" rx="1.70" fill="#c0c0c0" opacity="0.45"/>
<rect x="417.80" y="47.70" width="14.50" height="2.40" rx="1.20" fill="#c0c0c0"/>
<rect x="435.90" y="46.70" width="17.00" height="4.40" rx="2.20" fill="#989898" opacity="0.22"/>
<rect x="436.60" y="47.20" width="15.60" height="3.40" rx="1.70" fill="#989898" opacity="0.45"/>
<rect x="437.40" y="47.70" width="14.00" height="2.40" rx="1.20" fill="#989898"/>
<rect x="454.90" y="46.70" width="17.80" height="4.40" rx="2.20" fill="#a8a8a8" opacity="0.22"/>
<rect x="455.60" y="47.20" width="16.40" height="3.40" rx="1.70" fill="#a8a8a8" opacity="0.45"/>
<rect x="456.40" y="47.70" width="14.80" height="2.40" rx="1.20" fill="#a8a8a8"/>
</g></g>
<rect x="313.95" y="46.15" width="162.50" height="6.70" fill="none" stroke="#ececec" stroke-width="0.9" opacity="0.6"/>
<rect x="312.92" y="45.12" width="164.55" height="8.75" fill="none" stroke="#303030" stroke-width="1.05" />
<clipPath id="c11"><rect x="312.40" y="56.20" width="165.90" height="27.20"/></clipPath>
<rect x="312.40" y="56.20" width="165.90" height="27.20" fill="#d4d4d4" stroke="none" stroke-width="0" />
<g clip-path="url(#c11)"><g>
<rect x="318.50" y="60.50" width="16.20" height="21.50" fill="#a8a8a8" stroke="none" stroke-width="0" rx="2"/>
<rect x="338.30" y="60.50" width="15.90" height="21.50" fill="#c8c8c8" stroke="none" stroke-width="0" rx="2"/>
<rect x="357.80" y="60.50" width="16.40" height="21.50" fill="#bcbcbc" stroke="none" stroke-width="0" rx="2"/>
<rect x="377.60" y="60.50" width="16.10" height="21.50" fill="#cccccc" stroke="none" stroke-width="0" rx="2"/>
<rect x="397.90" y="60.50" width="15.60" height="21.50" fill="#c0c0c0" stroke="none" stroke-width="0" rx="2"/>
<rect x="416.90" y="60.50" width="16.30" height="21.50" fill="#bcbcbc" stroke="none" stroke-width="0" rx="2"/>
<rect x="436.50" y="60.50" width="15.80" height="21.50" fill="#c8c8c8" stroke="none" stroke-width="0" rx="2"/>
<rect x="455.50" y="60.50" width="16.60" height="21.50" fill="#c8c8c8" stroke="none" stroke-width="0" rx="2"/>
<path d="M319.00,61.74 Q326.60,62.46 334.20,61.74 Q334.80,62.70 334.20,63.66 Q326.60,66.94 319.00,63.66 Q318.40,62.70 319.00,61.74 Z" fill="#0a0a0a" stroke="#0a0a0a" stroke-width="1.10" stroke-opacity="0.4" stroke-linejoin="round"/>
<path d="M338.80,61.74 Q346.25,62.46 353.70,61.74 Q354.30,62.70 353.70,63.66 Q346.25,66.94 338.80,63.66 Q338.20,62.70 338.80,61.74 Z" fill="#b0b0b0" stroke="#b0b0b0" stroke-width="1.10" stroke-opacity="0.4" stroke-linejoin="round"/>
<path d="M358.30,60.80 Q366.00,61.45 373.70,60.80 Q374.30,61.58 373.70,62.36 Q366.00,65.09 358.30,62.36 Q357.70,61.58 358.30,60.80 Z" fill="#707070" stroke="#707070" stroke-width="1.10" stroke-opacity="0.4" stroke-linejoin="round"/>
<path d="M378.10,61.74 Q385.65,62.46 393.20,61.74 Q393.80,62.70 393.20,63.66 Q385.65,66.94 378.10,63.66 Q377.50,62.70 378.10,61.74 Z" fill="#b0b0b0" stroke="#b0b0b0" stroke-width="1.10" stroke-opacity="0.4" stroke-linejoin="round"/>
<path d="M398.40,61.30 Q405.70,61.95 413.00,61.30 Q413.60,62.08 413.00,62.86 Q405.70,65.59 398.40,62.86 Q397.80,62.08 398.40,61.30 Z" fill="#444444" stroke="#444444" stroke-width="1.10" stroke-opacity="0.4" stroke-linejoin="round"/>
<path d="M417.40,59.94 Q425.05,60.66 432.70,59.94 Q433.30,60.90 432.70,61.86 Q425.05,65.14 417.40,61.86 Q416.80,60.90 417.40,59.94 Z" fill="#484848" stroke="#484848" stroke-width="1.10" stroke-opacity="0.4" stroke-linejoin="round"/>
<path d="M437.00,61.74 Q444.40,62.46 451.80,61.74 Q452.40,62.70 451.80,63.66 Q444.40,66.94 437.00,63.66 Q436.40,62.70 437.00,61.74 Z" fill="#a8a8a8" stroke="#a8a8a8" stroke-width="1.10" stroke-opacity="0.4" stroke-linejoin="round"/>
<path d="M456.00,61.74 Q463.80,62.46 471.60,61.74 Q472.20,62.70 471.60,63.66 Q463.80,66.94 456.00,63.66 Q455.40,62.70 456.00,61.74 Z" fill="#a0a0a0" stroke="#a0a0a0" stroke-width="1.10" stroke-opacity="0.4" stroke-linejoin="round"/>
<path d="M319.00,64.91 Q326.60,65.59 334.20,64.91 Q334.80,65.75 334.20,66.59 Q326.60,69.51 319.00,66.59 Q318.40,65.75 319.00,64.91 Z" fill="#0a0a0a" stroke="#0a0a0a" stroke-width="1.10" stroke-opacity="0.4" stroke-linejoin="round"/>
<path d="M338.80,64.91 Q346.25,65.59 353.70,64.91 Q354.30,65.75 353.70,66.59 Q346.25,69.51 338.80,66.59 Q338.20,65.75 338.80,64.91 Z" fill="#b8b8b8" stroke="#b8b8b8" stroke-width="1.10" stroke-opacity="0.4" stroke-linejoin="round"/>
<path d="M358.30,64.08 Q366.00,64.72 373.70,64.08 Q374.30,64.80 373.70,65.52 Q366.00,68.08 358.30,65.52 Q357.70,64.80 358.30,64.08 Z" fill="#888888" stroke="#888888" stroke-width="1.10" stroke-opacity="0.4" stroke-linejoin="round"/>
<path d="M378.10,64.91 Q385.65,65.59 393.20,64.91 Q393.80,65.75 393.20,66.59 Q385.65,69.51 378.10,66.59 Q377.50,65.75 378.10,64.91 Z" fill="#b8b8b8" stroke="#b8b8b8" stroke-width="1.10" stroke-opacity="0.4" stroke-linejoin="round"/>
<path d="M398.40,64.91 Q405.70,65.59 413.00,64.91 Q413.60,65.75 413.00,66.59 Q405.70,69.51 398.40,66.59 Q397.80,65.75 398.40,64.91 Z" fill="#4a4a4a" stroke="#4a4a4a" stroke-width="1.10" stroke-opacity="0.4" stroke-linejoin="round"/>
<path d="M417.40,64.91 Q425.05,65.59 432.70,64.91 Q433.30,65.75 432.70,66.59 Q425.05,69.51 417.40,66.59 Q416.80,65.75 417.40,64.91 Z" fill="#808080" stroke="#808080" stroke-width="1.10" stroke-opacity="0.4" stroke-linejoin="round"/>
<path d="M437.00,64.91 Q444.40,65.59 451.80,64.91 Q452.40,65.75 451.80,66.59 Q444.40,69.51 437.00,66.59 Q436.40,65.75 437.00,64.91 Z" fill="#999999" stroke="#999999" stroke-width="1.10" stroke-opacity="0.4" stroke-linejoin="round"/>
<path d="M456.00,64.91 Q463.80,65.59 471.60,64.91 Q472.20,65.75 471.60,66.59 Q463.80,69.51 456.00,66.59 Q455.40,65.75 456.00,64.91 Z" fill="#999999" stroke="#999999" stroke-width="1.10" stroke-opacity="0.4" stroke-linejoin="round"/>
<rect x="317.70" y="66.80" width="17.80" height="3.80" rx="1.90" fill="#505050" opacity="0.22"/>
<rect x="318.40" y="67.30" width="16.40" height="2.80" rx="1.40" fill="#505050" opacity="0.45"/>
<rect x="319.20" y="67.80" width="14.80" height="1.80" rx="0.90" fill="#505050"/>
<rect x="337.50" y="66.80" width="17.50" height="3.80" rx="1.90" fill="#b0b0b0" opacity="0.22"/>
<rect x="338.20" y="67.30" width="16.10" height="2.80" rx="1.40" fill="#b0b0b0" opacity="0.45"/>
<rect x="339.00" y="67.80" width="14.50" height="1.80" rx="0.90" fill="#b0b0b0"/>
<rect x="357.00" y="66.80" width="18.00" height="3.80" rx="1.90" fill="#999999" opacity="0.22"/>
<rect x="357.70" y="67.30" width="16.60" height="2.80" rx="1.40" fill="#999999" opacity="0.45"/>
<rect x="358.50" y="67.80" width="15.00" height="1.80" rx="0.90" fill="#999999"/>
<rect x="376.80" y="66.80" width="17.70" height="3.80" rx="1.90" fill="#b8b8b8" opacity="0.22"/>
<rect x="377.50" y="67.30" width="16.30" height="2.80" rx="1.40" fill="#b8b8b8" opacity="0.45"/>
<rect x="378.30" y="67.80" width="14.70" height="1.80" rx="0.90" fill="#b8b8b8"/>
<rect x="397.10" y="66.80" width="17.20" height="3.80" rx="1.90" fill="#808080" opacity="0.22"/>
<rect x="397.80" y="67.30" width="15.80" height="2.80" rx="1.40" fill="#808080" opacity="0.45"/>
<rect x="398.60" y="67.80" width="14.20" height="1.80" rx="0.90" fill="#808080"/>
<rect x="416.10" y="66.80" width="17.90" height="3.80" rx="1.90" fill="#909090" opacity="0.22"/>
<rect x="416.80" y="67.30" width="16.50" height="2.80" rx="1.40" fill="#909090" opacity="0.45"/>
<rect x="417.60" y="67.80" width="14.90" height="1.80" rx="0.90" fill="#909090"/>
<rect x="435.70" y="66.80" width="17.40" height="3.80" rx="1.90" fill="#a4a4a4" opacity="0.22"/>
<rect x="436.40" y="67.30" width="16.00" height="2.80" rx="1.40" fill="#a4a4a4" opacity="0.45"/>
<rect x="437.20" y="67.80" width="14.40" height="1.80" rx="0.90" fill="#a4a4a4"/>
<rect x="454.70" y="66.80" width="18.20" height="3.80" rx="1.90" fill="#a4a4a4" opacity="0.22"/>
<rect x="455.40" y="67.30" width="16.80" height="2.80" rx="1.40" fill="#a4a4a4" opacity="0.45"/>
<rect x="456.20" y="67.80" width="15.20" height="1.80" rx="0.90" fill="#a4a4a4"/>
<path d="M319.00,70.77 Q326.60,71.39 334.20,70.77 Q334.80,71.42 334.20,72.08 Q326.60,74.46 319.00,72.08 Q318.40,71.42 319.00,70.77 Z" fill="#222222" stroke="#222222" stroke-width="1.10" stroke-opacity="0.4" stroke-linejoin="round"/>
<path d="M338.80,70.77 Q346.25,71.39 353.70,70.77 Q354.30,71.42 353.70,72.08 Q346.25,74.46 338.80,72.08 Q338.20,71.42 338.80,70.77 Z" fill="#a8a8a8" stroke="#a8a8a8" stroke-width="1.10" stroke-opacity="0.4" stroke-linejoin="round"/>
<path d="M358.30,70.77 Q366.00,71.39 373.70,70.77 Q374.30,71.42 373.70,72.08 Q366.00,74.46 358.30,72.08 Q357.70,71.42 358.30,70.77 Z" fill="#484848" stroke="#484848" stroke-width="1.10" stroke-opacity="0.4" stroke-linejoin="round"/>
<path d="M378.10,70.77 Q385.65,71.39 393.20,70.77 Q393.80,71.42 393.20,72.08 Q385.65,74.46 378.10,72.08 Q377.50,71.42 378.10,70.77 Z" fill="#b0b0b0" stroke="#b0b0b0" stroke-width="1.10" stroke-opacity="0.4" stroke-linejoin="round"/>
<path d="M398.40,70.77 Q405.70,71.39 413.00,70.77 Q413.60,71.42 413.00,72.08 Q405.70,74.46 398.40,72.08 Q397.80,71.42 398.40,70.77 Z" fill="#5a5a5a" stroke="#5a5a5a" stroke-width="1.10" stroke-opacity="0.4" stroke-linejoin="round"/>
<path d="M417.40,70.77 Q425.05,71.39 432.70,70.77 Q433.30,71.42 432.70,72.08 Q425.05,74.46 417.40,72.08 Q416.80,71.42 417.40,70.77 Z" fill="#888888" stroke="#888888" stroke-width="1.10" stroke-opacity="0.4" stroke-linejoin="round"/>
<path d="M437.00,70.77 Q444.40,71.39 451.80,70.77 Q452.40,71.42 451.80,72.08 Q444.40,74.46 437.00,72.08 Q436.40,71.42 437.00,70.77 Z" fill="#999999" stroke="#999999" stroke-width="1.10" stroke-opacity="0.4" stroke-linejoin="round"/>
<path d="M456.00,70.77 Q463.80,71.39 471.60,70.77 Q472.20,71.42 471.60,72.08 Q463.80,74.46 456.00,72.08 Q455.40,71.42 456.00,70.77 Z" fill="#a4a4a4" stroke="#a4a4a4" stroke-width="1.10" stroke-opacity="0.4" stroke-linejoin="round"/>
<path d="M319.00,75.84 Q326.60,76.56 334.20,75.84 Q334.80,76.80 334.20,77.76 Q326.60,81.04 319.00,77.76 Q318.40,76.80 319.00,75.84 Z" fill="#101010" stroke="#101010" stroke-width="1.10" stroke-opacity="0.4" stroke-linejoin="round"/>
<path d="M338.80,75.84 Q346.25,76.56 353.70,75.84 Q354.30,76.80 353.70,77.76 Q346.25,81.04 338.80,77.76 Q338.20,76.80 338.80,75.84 Z" fill="#404040" stroke="#404040" stroke-width="1.10" stroke-opacity="0.4" stroke-linejoin="round"/>
<path d="M358.30,75.84 Q366.00,76.56 373.70,75.84 Q374.30,76.80 373.70,77.76 Q366.00,81.04 358.30,77.76 Q357.70,76.80 358.30,75.84 Z" fill="#303030" stroke="#303030" stroke-width="1.10" stroke-opacity="0.4" stroke-linejoin="round"/>
<path d="M378.10,75.84 Q385.65,76.56 393.20,75.84 Q393.80,76.80 393.20,77.76 Q385.65,81.04 378.10,77.76 Q377.50,76.80 378.10,75.84 Z" fill="#c8c8c8" stroke="#c8c8c8" stroke-width="1.10" stroke-opacity="0.4" stroke-linejoin="round"/>
<path d="M398.40,75.84 Q405.70,76.56 413.00,75.84 Q413.60,76.80 413.00,77.76 Q405.70,81.04 398.40,77.76 Q397.80,76.80 398.40,75.84 Z" fill="#999999" stroke="#999999" stroke-width="1.10" stroke-opacity="0.4" stroke-linejoin="round"/>
<path d="M417.40,75.84 Q425.05,76.56 432.70,75.84 Q433.30,76.80 432.70,77.76 Q425.05,81.04 417.40,77.76 Q416.80,76.80 417.40,75.84 Z" fill="#b0b0b0" stroke="#b0b0b0" stroke-width="1.10" stroke-opacity="0.4" stroke-linejoin="round"/>
<path d="M437.00,76.04 Q444.40,76.76 451.80,76.04 Q452.40,77.00 451.80,77.96 Q444.40,81.24 437.00,77.96 Q436.40,77.00 437.00,76.04 Z" fill="#303030" stroke="#303030" stroke-width="1.10" stroke-opacity="0.4" stroke-linejoin="round"/>
<path d="M456.00,75.84 Q463.80,76.56 471.60,75.84 Q472.20,76.80 471.60,77.76 Q463.80,81.04 456.00,77.76 Q455.40,76.80 456.00,75.84 Z" fill="#a8a8a8" stroke="#a8a8a8" stroke-width="1.10" stroke-opacity="0.4" stroke-linejoin="round"/>
<rect x="317.70" y="77.80" width="17.80" height="4.00" rx="2.00" fill="#555555" opacity="0.22"/>
<rect x="318.40" y="78.30" width="16.40" height="3.00" rx="1.50" fill="#555555" opacity="0.45"/>
<rect x="319.20" y="78.80" width="14.80" height="2.00" rx="1.00" fill="#555555"/>
<rect x="337.50" y="77.80" width="17.50" height="4.00" rx="2.00" fill="#606060" opacity="0.22"/>
<rect x="338.20" y="78.30" width="16.10" height="3.00" rx="1.50" fill="#606060" opacity="0.45"/>
<rect x="339.00" y="78.80" width="14.50" height="2.00" rx="1.00" fill="#606060"/>
<rect x="357.00" y="77.80" width="18.00" height="4.00" rx="2.00" fill="#505050" opacity="0.22"/>
<rect x="357.70" y="78.30" width="16.60" height="3.00" rx="1.50" fill="#505050" opacity="0.45"/>
<rect x="358.50" y="78.80" width="15.00" height="2.00" rx="1.00" fill="#505050"/>
<rect x="435.70" y="77.80" width="17.40" height="4.00" rx="2.00" fill="#5a5a5a" opacity="0.22"/>
<rect x="436.40" y="78.30" width="16.00" height="3.00" rx="1.50" fill="#5a5a5a" opacity="0.45"/>
<rect x="437.20" y="78.80" width="14.40" height="2.00" rx="1.00" fill="#5a5a5a"/>
</g></g>
<rect x="313.95" y="57.75" width="162.80" height="24.10" fill="none" stroke="#ececec" stroke-width="0.9" opacity="0.6"/>
<rect x="312.92" y="56.73" width="164.85" height="26.15" fill="none" stroke="#303030" stroke-width="1.05" />
<clipPath id="c12"><rect x="311.50" y="85.60" width="166.80" height="12.70"/></clipPath>
<rect x="311.50" y="85.60" width="166.80" height="12.70" fill="#d4d4d4" stroke="none" stroke-width="0" />
<g clip-path="url(#c12)"><g>
<path d="M318.40,91.77 Q327.45,92.53 336.50,91.77 Q337.10,92.85 336.50,93.93 Q327.45,97.57 318.40,93.93 Q317.80,92.85 318.40,91.77 Z" fill="#101010" stroke="#101010" stroke-width="1.40" stroke-opacity="0.45" stroke-linejoin="round"/>
<path d="M337.80,91.77 Q346.70,92.53 355.60,91.77 Q356.20,92.85 355.60,93.93 Q346.70,97.57 337.80,93.93 Q337.20,92.85 337.80,91.77 Z" fill="#101010" stroke="#101010" stroke-width="1.40" stroke-opacity="0.45" stroke-linejoin="round"/>
<path d="M357.30,91.77 Q365.95,92.53 374.60,91.77 Q375.20,92.85 374.60,93.93 Q365.95,97.57 357.30,93.93 Q356.70,92.85 357.30,91.77 Z" fill="#101010" stroke="#101010" stroke-width="1.40" stroke-opacity="0.45" stroke-linejoin="round"/>
<path d="M376.90,91.77 Q385.70,92.53 394.50,91.77 Q395.10,92.85 394.50,93.93 Q385.70,97.57 376.90,93.93 Q376.30,92.85 376.90,91.77 Z" fill="#181818" stroke="#181818" stroke-width="1.40" stroke-opacity="0.45" stroke-linejoin="round"/>
<path d="M396.30,91.77 Q404.95,92.53 413.60,91.77 Q414.20,92.85 413.60,93.93 Q404.95,97.57 396.30,93.93 Q395.70,92.85 396.30,91.77 Z" fill="#101010" stroke="#101010" stroke-width="1.40" stroke-opacity="0.45" stroke-linejoin="round"/>
<path d="M415.40,91.77 Q424.90,92.53 434.40,91.77 Q435.00,92.85 434.40,93.93 Q424.90,97.57 415.40,93.93 Q414.80,92.85 415.40,91.77 Z" fill="#141414" stroke="#141414" stroke-width="1.40" stroke-opacity="0.45" stroke-linejoin="round"/>
<path d="M435.30,91.77 Q443.95,92.53 452.60,91.77 Q453.20,92.85 452.60,93.93 Q443.95,97.57 435.30,93.93 Q434.70,92.85 435.30,91.77 Z" fill="#181818" stroke="#181818" stroke-width="1.40" stroke-opacity="0.45" stroke-linejoin="round"/>
<path d="M454.00,91.77 Q463.65,92.53 473.30,91.77 Q473.90,92.85 473.30,93.93 Q463.65,97.57 454.00,93.93 Q453.40,92.85 454.00,91.77 Z" fill="#141414" stroke="#141414" stroke-width="1.40" stroke-opacity="0.45" stroke-linejoin="round"/>
</g></g>
<rect x="313.05" y="87.15" width="163.70" height="9.60" fill="none" stroke="#ececec" stroke-width="0.9" opacity="0.6"/>
<rect x="312.02" y="86.12" width="165.75" height="11.65" fill="none" stroke="#303030" stroke-width="1.05" />
<clipPath id="c13"><rect x="312.30" y="102.30" width="167.10" height="16.40"/></clipPath>
<rect x="312.30" y="102.30" width="167.10" height="16.40" fill="#d2d2d2" stroke="none" stroke-width="0" />
<g clip-path="url(#c13)"><g>
<path d="M318.40,108.27 Q327.45,108.63 336.50,108.27 Q337.10,109.65 336.50,111.03 Q327.45,115.07 318.40,111.03 Q317.80,109.65 318.40,108.27 Z" fill="#080808" stroke="#080808" stroke-width="1.40" stroke-opacity="0.45" stroke-linejoin="round"/>
<path d="M337.80,108.27 Q346.70,108.63 355.60,108.27 Q356.20,109.65 355.60,111.03 Q346.70,115.07 337.80,111.03 Q337.20,109.65 337.80,108.27 Z" fill="#101010" stroke="#101010" stroke-width="1.40" stroke-opacity="0.45" stroke-linejoin="round"/>
<path d="M357.30,108.27 Q365.95,108.63 374.60,108.27 Q375.20,109.65 374.60,111.03 Q365.95,115.07 357.30,111.03 Q356.70,109.65 357.30,108.27 Z" fill="#101010" stroke="#101010" stroke-width="1.40" stroke-opacity="0.45" stroke-linejoin="round"/>
<path d="M376.90,108.27 Q385.70,108.63 394.50,108.27 Q395.10,109.65 394.50,111.03 Q385.70,115.07 376.90,111.03 Q376.30,109.65 376.90,108.27 Z" fill="#181818" stroke="#181818" stroke-width="1.40" stroke-opacity="0.45" stroke-linejoin="round"/>
<path d="M396.30,108.27 Q404.95,108.63 413.60,108.27 Q414.20,109.65 413.60,111.03 Q404.95,115.07 396.30,111.03 Q395.70,109.65 396.30,108.27 Z" fill="#101010" stroke="#101010" stroke-width="1.40" stroke-opacity="0.45" stroke-linejoin="round"/>
<path d="M415.40,108.27 Q424.90,108.63 434.40,108.27 Q435.00,109.65 434.40,111.03 Q424.90,115.07 415.40,111.03 Q414.80,109.65 415.40,108.27 Z" fill="#101010" stroke="#101010" stroke-width="1.40" stroke-opacity="0.45" stroke-linejoin="round"/>
<path d="M435.30,108.27 Q443.95,108.63 452.60,108.27 Q453.20,109.65 452.60,111.03 Q443.95,115.07 435.30,111.03 Q434.70,109.65 435.30,108.27 Z" fill="#141414" stroke="#141414" stroke-width="1.40" stroke-opacity="0.45" stroke-linejoin="round"/>
<path d="M454.00,108.27 Q463.65,108.63 473.30,108.27 Q473.90,109.65 473.30,111.03 Q463.65,115.07 454.00,111.03 Q453.40,109.65 454.00,108.27 Z" fill="#101010" stroke="#101010" stroke-width="1.40" stroke-opacity="0.45" stroke-linejoin="round"/>
</g></g>
<rect x="313.85" y="103.85" width="164.00" height="13.30" fill="none" stroke="#ececec" stroke-width="0.9" opacity="0.6"/>
<rect x="312.82" y="102.83" width="166.05" height="15.35" fill="none" stroke="#303030" stroke-width="1.05" />
<text x="482.57" y="51.90" font-size="8.5" text-anchor="start" fill="#231f20" stroke="#231f20" stroke-width="0.28"  textLength="19.35" lengthAdjust="spacingAndGlyphs">Mcl-1</text>
<text x="482.57" y="73.20" font-size="8.5" text-anchor="start" fill="#231f20" stroke="#231f20" stroke-width="0.28"  textLength="20.85" lengthAdjust="spacingAndGlyphs">Pim-2</text>
<text x="482.57" y="94.90" font-size="8.5" text-anchor="start" fill="#231f20" stroke="#231f20" stroke-width="0.28"  textLength="26.75" lengthAdjust="spacingAndGlyphs">GAPDH</text>
<text x="482.57" y="111.30" font-size="8.5" text-anchor="start" fill="#231f20" stroke="#231f20" stroke-width="0.28"  textLength="24.85" lengthAdjust="spacingAndGlyphs">β-actin</text>
<text x="353.20" y="134.80" font-size="8.5" text-anchor="middle" fill="#231f20" stroke="#231f20" stroke-width="0.28"  textLength="35.25" lengthAdjust="spacingAndGlyphs">Patient #8</text>
<text x="432.00" y="134.90" font-size="8.5" text-anchor="middle" fill="#231f20" stroke="#231f20" stroke-width="0.28"  textLength="35.85" lengthAdjust="spacingAndGlyphs">Patient #7</text>
<line x1="318.00" y1="138.40" x2="388.40" y2="138.40" stroke="#231f20" stroke-width="1"/>
<line x1="397.00" y1="138.40" x2="467.50" y2="138.40" stroke="#231f20" stroke-width="1"/>
<text x="322.25" y="148.50" font-size="8.5" text-anchor="middle" fill="#231f20" stroke="#231f20" stroke-width="0.28"  textLength="12.35" lengthAdjust="spacingAndGlyphs">pre</text>
<text x="341.85" y="148.50" font-size="8.5" text-anchor="middle" fill="#231f20" stroke="#231f20" stroke-width="0.28"  textLength="9.15" lengthAdjust="spacingAndGlyphs">C1</text>
<text x="361.80" y="148.50" font-size="8.5" text-anchor="middle" fill="#231f20" stroke="#231f20" stroke-width="0.28"  textLength="10.45" lengthAdjust="spacingAndGlyphs">C2</text>
<text x="381.45" y="148.50" font-size="8.5" text-anchor="middle" fill="#231f20" stroke="#231f20" stroke-width="0.28"  textLength="10.55" lengthAdjust="spacingAndGlyphs">C3</text>
<text x="401.00" y="148.50" font-size="8.5" text-anchor="middle" fill="#231f20" stroke="#231f20" stroke-width="0.28"  textLength="12.85" lengthAdjust="spacingAndGlyphs">pre</text>
<text x="420.15" y="148.50" font-size="8.5" text-anchor="middle" fill="#231f20" stroke="#231f20" stroke-width="0.28"  textLength="9.55" lengthAdjust="spacingAndGlyphs">C1</text>
<text x="439.40" y="148.50" font-size="8.5" text-anchor="middle" fill="#231f20" stroke="#231f20" stroke-width="0.28"  textLength="9.65" lengthAdjust="spacingAndGlyphs">C2</text>
<text x="458.55" y="148.50" font-size="8.5" text-anchor="middle" fill="#231f20" stroke="#231f20" stroke-width="0.28"  textLength="10.35" lengthAdjust="spacingAndGlyphs">C3</text>
<clipPath id="c14"><rect x="311.50" y="151.60" width="161.80" height="12.90"/></clipPath>
<rect x="311.50" y="151.60" width="161.80" height="12.90" fill="#d6d6d6" stroke="none" stroke-width="0" />
<g clip-path="url(#c14)"><g>
<rect x="314.10" y="155.60" width="17.20" height="4.20" rx="2.10" fill="#222222" opacity="0.22"/>
<rect x="314.80" y="156.10" width="15.80" height="3.20" rx="1.60" fill="#222222" opacity="0.45"/>
<rect x="315.60" y="156.60" width="14.20" height="2.20" rx="1.10" fill="#222222"/>
<rect x="332.70" y="155.60" width="19.00" height="4.20" rx="2.10" fill="#999999" opacity="0.22"/>
<rect x="333.40" y="156.10" width="17.60" height="3.20" rx="1.60" fill="#999999" opacity="0.45"/>
<rect x="334.20" y="156.60" width="16.00" height="2.20" rx="1.10" fill="#999999"/>
<rect x="353.50" y="155.60" width="17.80" height="4.20" rx="2.10" fill="#555555" opacity="0.22"/>
<rect x="354.20" y="156.10" width="16.40" height="3.20" rx="1.60" fill="#555555" opacity="0.45"/>
<rect x="355.00" y="156.60" width="14.80" height="2.20" rx="1.10" fill="#555555"/>
<rect x="372.70" y="155.60" width="17.60" height="4.20" rx="2.10" fill="#484848" opacity="0.22"/>
<rect x="373.40" y="156.10" width="16.20" height="3.20" rx="1.60" fill="#484848" opacity="0.45"/>
<rect x="374.20" y="156.60" width="14.60" height="2.20" rx="1.10" fill="#484848"/>
<rect x="393.10" y="156.40" width="16.60" height="4.20" rx="2.10" fill="#444444" opacity="0.22"/>
<rect x="393.80" y="156.90" width="15.20" height="3.20" rx="1.60" fill="#444444" opacity="0.45"/>
<rect x="394.60" y="157.40" width="13.60" height="2.20" rx="1.10" fill="#444444"/>
<rect x="411.70" y="156.60" width="17.20" height="4.20" rx="2.10" fill="#787878" opacity="0.22"/>
<rect x="412.40" y="157.10" width="15.80" height="3.20" rx="1.60" fill="#787878" opacity="0.45"/>
<rect x="413.20" y="157.60" width="14.20" height="2.20" rx="1.10" fill="#787878"/>
<rect x="430.70" y="156.60" width="16.00" height="4.20" rx="2.10" fill="#787878" opacity="0.22"/>
<rect x="431.40" y="157.10" width="14.60" height="3.20" rx="1.60" fill="#787878" opacity="0.45"/>
<rect x="432.20" y="157.60" width="13.00" height="2.20" rx="1.10" fill="#787878"/>
<rect x="449.70" y="156.60" width="17.40" height="4.20" rx="2.10" fill="#666666" opacity="0.22"/>
<rect x="450.40" y="157.10" width="16.00" height="3.20" rx="1.60" fill="#666666" opacity="0.45"/>
<rect x="451.20" y="157.60" width="14.40" height="2.20" rx="1.10" fill="#666666"/>
<rect x="314.10" y="158.00" width="17.20" height="3.20" rx="1.60" fill="#999999" opacity="0.22"/>
<rect x="314.80" y="158.50" width="15.80" height="2.20" rx="1.10" fill="#999999" opacity="0.45"/>
<rect x="315.60" y="159.00" width="14.20" height="1.20" rx="0.60" fill="#999999"/>
<rect x="353.50" y="158.00" width="17.80" height="3.20" rx="1.60" fill="#a8a8a8" opacity="0.22"/>
<rect x="354.20" y="158.50" width="16.40" height="2.20" rx="1.10" fill="#a8a8a8" opacity="0.45"/>
<rect x="355.00" y="159.00" width="14.80" height="1.20" rx="0.60" fill="#a8a8a8"/>
<rect x="372.70" y="158.00" width="17.60" height="3.20" rx="1.60" fill="#a8a8a8" opacity="0.22"/>
<rect x="373.40" y="158.50" width="16.20" height="2.20" rx="1.10" fill="#a8a8a8" opacity="0.45"/>
<rect x="374.20" y="159.00" width="14.60" height="1.20" rx="0.60" fill="#a8a8a8"/>
</g></g>
<rect x="313.05" y="153.15" width="158.70" height="9.80" fill="none" stroke="#ececec" stroke-width="0.9" opacity="0.6"/>
<rect x="312.02" y="152.12" width="160.75" height="11.85" fill="none" stroke="#303030" stroke-width="1.05" />
<clipPath id="c15"><rect x="311.50" y="166.30" width="161.80" height="24.30"/></clipPath>
<rect x="311.50" y="166.30" width="161.80" height="24.30" fill="#d4d4d4" stroke="none" stroke-width="0" />
<g clip-path="url(#c15)"><g>
<rect x="314.10" y="170.50" width="17.20" height="3.80" rx="1.90" fill="#666666" opacity="0.22"/>
<rect x="314.80" y="171.00" width="15.80" height="2.80" rx="1.40" fill="#666666" opacity="0.45"/>
<rect x="315.60" y="171.50" width="14.20" height="1.80" rx="0.90" fill="#666666"/>
<rect x="332.70" y="170.50" width="19.00" height="3.80" rx="1.90" fill="#c0c0c0" opacity="0.22"/>
<rect x="333.40" y="171.00" width="17.60" height="2.80" rx="1.40" fill="#c0c0c0" opacity="0.45"/>
<rect x="334.20" y="171.50" width="16.00" height="1.80" rx="0.90" fill="#c0c0c0"/>
<rect x="353.50" y="170.50" width="17.80" height="3.80" rx="1.90" fill="#a8a8a8" opacity="0.22"/>
<rect x="354.20" y="171.00" width="16.40" height="2.80" rx="1.40" fill="#a8a8a8" opacity="0.45"/>
<rect x="355.00" y="171.50" width="14.80" height="1.80" rx="0.90" fill="#a8a8a8"/>
<rect x="372.70" y="170.50" width="17.60" height="3.80" rx="1.90" fill="#a8a8a8" opacity="0.22"/>
<rect x="373.40" y="171.00" width="16.20" height="2.80" rx="1.40" fill="#a8a8a8" opacity="0.45"/>
<rect x="374.20" y="171.50" width="14.60" height="1.80" rx="0.90" fill="#a8a8a8"/>
<rect x="393.10" y="170.50" width="16.60" height="3.80" rx="1.90" fill="#303030" opacity="0.22"/>
<rect x="393.80" y="171.00" width="15.20" height="2.80" rx="1.40" fill="#303030" opacity="0.45"/>
<rect x="394.60" y="171.50" width="13.60" height="1.80" rx="0.90" fill="#303030"/>
<rect x="411.70" y="170.50" width="17.20" height="3.80" rx="1.90" fill="#999999" opacity="0.22"/>
<rect x="412.40" y="171.00" width="15.80" height="2.80" rx="1.40" fill="#999999" opacity="0.45"/>
<rect x="413.20" y="171.50" width="14.20" height="1.80" rx="0.90" fill="#999999"/>
<rect x="430.70" y="170.50" width="16.00" height="3.80" rx="1.90" fill="#999999" opacity="0.22"/>
<rect x="431.40" y="171.00" width="14.60" height="2.80" rx="1.40" fill="#999999" opacity="0.45"/>
<rect x="432.20" y="171.50" width="13.00" height="1.80" rx="0.90" fill="#999999"/>
<rect x="449.70" y="170.50" width="17.40" height="3.80" rx="1.90" fill="#999999" opacity="0.22"/>
<rect x="450.40" y="171.00" width="16.00" height="2.80" rx="1.40" fill="#999999" opacity="0.45"/>
<rect x="451.20" y="171.50" width="14.40" height="1.80" rx="0.90" fill="#999999"/>
<rect x="314.10" y="176.50" width="17.20" height="3.80" rx="1.90" fill="#505050" opacity="0.22"/>
<rect x="314.80" y="177.00" width="15.80" height="2.80" rx="1.40" fill="#505050" opacity="0.45"/>
<rect x="315.60" y="177.50" width="14.20" height="1.80" rx="0.90" fill="#505050"/>
<rect x="332.70" y="176.50" width="19.00" height="3.80" rx="1.90" fill="#b4b4b4" opacity="0.22"/>
<rect x="333.40" y="177.00" width="17.60" height="2.80" rx="1.40" fill="#b4b4b4" opacity="0.45"/>
<rect x="334.20" y="177.50" width="16.00" height="1.80" rx="0.90" fill="#b4b4b4"/>
<rect x="353.50" y="176.50" width="17.80" height="3.80" rx="1.90" fill="#999999" opacity="0.22"/>
<rect x="354.20" y="177.00" width="16.40" height="2.80" rx="1.40" fill="#999999" opacity="0.45"/>
<rect x="355.00" y="177.50" width="14.80" height="1.80" rx="0.90" fill="#999999"/>
<rect x="372.70" y="176.50" width="17.60" height="3.80" rx="1.90" fill="#888888" opacity="0.22"/>
<rect x="373.40" y="177.00" width="16.20" height="2.80" rx="1.40" fill="#888888" opacity="0.45"/>
<rect x="374.20" y="177.50" width="14.60" height="1.80" rx="0.90" fill="#888888"/>
<rect x="393.10" y="176.50" width="16.60" height="3.80" rx="1.90" fill="#222222" opacity="0.22"/>
<rect x="393.80" y="177.00" width="15.20" height="2.80" rx="1.40" fill="#222222" opacity="0.45"/>
<rect x="394.60" y="177.50" width="13.60" height="1.80" rx="0.90" fill="#222222"/>
<rect x="411.70" y="176.50" width="17.20" height="3.80" rx="1.90" fill="#666666" opacity="0.22"/>
<rect x="412.40" y="177.00" width="15.80" height="2.80" rx="1.40" fill="#666666" opacity="0.45"/>
<rect x="413.20" y="177.50" width="14.20" height="1.80" rx="0.90" fill="#666666"/>
<rect x="430.70" y="176.50" width="16.00" height="3.80" rx="1.90" fill="#777777" opacity="0.22"/>
<rect x="431.40" y="177.00" width="14.60" height="2.80" rx="1.40" fill="#777777" opacity="0.45"/>
<rect x="432.20" y="177.50" width="13.00" height="1.80" rx="0.90" fill="#777777"/>
<rect x="449.70" y="176.50" width="17.40" height="3.80" rx="1.90" fill="#999999" opacity="0.22"/>
<rect x="450.40" y="177.00" width="16.00" height="2.80" rx="1.40" fill="#999999" opacity="0.45"/>
<rect x="451.20" y="177.50" width="14.40" height="1.80" rx="0.90" fill="#999999"/>
<rect x="314.10" y="179.35" width="17.20" height="3.30" rx="1.65" fill="#aaaaaa" opacity="0.22"/>
<rect x="314.80" y="179.85" width="15.80" height="2.30" rx="1.15" fill="#aaaaaa" opacity="0.45"/>
<rect x="315.60" y="180.35" width="14.20" height="1.30" rx="0.65" fill="#aaaaaa"/>
<rect x="332.70" y="179.35" width="19.00" height="3.30" rx="1.65" fill="#bbbbbb" opacity="0.22"/>
<rect x="333.40" y="179.85" width="17.60" height="2.30" rx="1.15" fill="#bbbbbb" opacity="0.45"/>
<rect x="334.20" y="180.35" width="16.00" height="1.30" rx="0.65" fill="#bbbbbb"/>
<rect x="353.50" y="179.35" width="17.80" height="3.30" rx="1.65" fill="#a0a0a0" opacity="0.22"/>
<rect x="354.20" y="179.85" width="16.40" height="2.30" rx="1.15" fill="#a0a0a0" opacity="0.45"/>
<rect x="355.00" y="180.35" width="14.80" height="1.30" rx="0.65" fill="#a0a0a0"/>
<rect x="372.70" y="179.35" width="17.60" height="3.30" rx="1.65" fill="#a0a0a0" opacity="0.22"/>
<rect x="373.40" y="179.85" width="16.20" height="2.30" rx="1.15" fill="#a0a0a0" opacity="0.45"/>
<rect x="374.20" y="180.35" width="14.60" height="1.30" rx="0.65" fill="#a0a0a0"/>
<rect x="393.10" y="179.35" width="16.60" height="3.30" rx="1.65" fill="#888888" opacity="0.22"/>
<rect x="393.80" y="179.85" width="15.20" height="2.30" rx="1.15" fill="#888888" opacity="0.45"/>
<rect x="394.60" y="180.35" width="13.60" height="1.30" rx="0.65" fill="#888888"/>
<rect x="411.70" y="179.35" width="17.20" height="3.30" rx="1.65" fill="#a0a0a0" opacity="0.22"/>
<rect x="412.40" y="179.85" width="15.80" height="2.30" rx="1.15" fill="#a0a0a0" opacity="0.45"/>
<rect x="413.20" y="180.35" width="14.20" height="1.30" rx="0.65" fill="#a0a0a0"/>
<rect x="430.70" y="179.35" width="16.00" height="3.30" rx="1.65" fill="#a0a0a0" opacity="0.22"/>
<rect x="431.40" y="179.85" width="14.60" height="2.30" rx="1.15" fill="#a0a0a0" opacity="0.45"/>
<rect x="432.20" y="180.35" width="13.00" height="1.30" rx="0.65" fill="#a0a0a0"/>
<rect x="449.70" y="179.35" width="17.40" height="3.30" rx="1.65" fill="#a0a0a0" opacity="0.22"/>
<rect x="450.40" y="179.85" width="16.00" height="2.30" rx="1.15" fill="#a0a0a0" opacity="0.45"/>
<rect x="451.20" y="180.35" width="14.40" height="1.30" rx="0.65" fill="#a0a0a0"/>
<rect x="314.10" y="182.35" width="17.20" height="4.30" rx="2.15" fill="#080808" opacity="0.22"/>
<rect x="314.80" y="182.85" width="15.80" height="3.30" rx="1.65" fill="#080808" opacity="0.45"/>
<rect x="315.60" y="183.35" width="14.20" height="2.30" rx="1.15" fill="#080808"/>
<rect x="332.70" y="182.35" width="19.00" height="4.30" rx="2.15" fill="#555555" opacity="0.22"/>
<rect x="333.40" y="182.85" width="17.60" height="3.30" rx="1.65" fill="#555555" opacity="0.45"/>
<rect x="334.20" y="183.35" width="16.00" height="2.30" rx="1.15" fill="#555555"/>
<rect x="353.50" y="182.35" width="17.80" height="4.30" rx="2.15" fill="#222222" opacity="0.22"/>
<rect x="354.20" y="182.85" width="16.40" height="3.30" rx="1.65" fill="#222222" opacity="0.45"/>
<rect x="355.00" y="183.35" width="14.80" height="2.30" rx="1.15" fill="#222222"/>
<rect x="372.70" y="182.35" width="17.60" height="4.30" rx="2.15" fill="#141414" opacity="0.22"/>
<rect x="373.40" y="182.85" width="16.20" height="3.30" rx="1.65" fill="#141414" opacity="0.45"/>
<rect x="374.20" y="183.35" width="14.60" height="2.30" rx="1.15" fill="#141414"/>
<rect x="393.10" y="182.55" width="16.60" height="4.50" rx="2.25" fill="#050505" opacity="0.22"/>
<rect x="393.80" y="183.05" width="15.20" height="3.50" rx="1.75" fill="#050505" opacity="0.45"/>
<rect x="394.60" y="183.55" width="13.60" height="2.50" rx="1.25" fill="#050505"/>
<rect x="411.70" y="182.75" width="17.20" height="4.30" rx="2.15" fill="#222222" opacity="0.22"/>
<rect x="412.40" y="183.25" width="15.80" height="3.30" rx="1.65" fill="#222222" opacity="0.45"/>
<rect x="413.20" y="183.75" width="14.20" height="2.30" rx="1.15" fill="#222222"/>
<rect x="430.70" y="182.75" width="16.00" height="4.30" rx="2.15" fill="#222222" opacity="0.22"/>
<rect x="431.40" y="183.25" width="14.60" height="3.30" rx="1.65" fill="#222222" opacity="0.45"/>
<rect x="432.20" y="183.75" width="13.00" height="2.30" rx="1.15" fill="#222222"/>
<rect x="449.70" y="182.75" width="17.40" height="4.30" rx="2.15" fill="#333333" opacity="0.22"/>
<rect x="450.40" y="183.25" width="16.00" height="3.30" rx="1.65" fill="#333333" opacity="0.45"/>
<rect x="451.20" y="183.75" width="14.40" height="2.30" rx="1.15" fill="#333333"/>
</g></g>
<rect x="313.05" y="167.85" width="158.70" height="21.20" fill="none" stroke="#ececec" stroke-width="0.9" opacity="0.6"/>
<rect x="312.02" y="166.83" width="160.75" height="23.25" fill="none" stroke="#303030" stroke-width="1.05" />
<clipPath id="c16"><rect x="312.30" y="192.30" width="160.70" height="12.20"/></clipPath>
<rect x="312.30" y="192.30" width="160.70" height="12.20" fill="#d6d6d6" stroke="none" stroke-width="0" />
<g clip-path="url(#c16)"><g>
<rect x="313.70" y="196.10" width="17.60" height="4.60" rx="2.30" fill="#141414" opacity="0.22"/>
<rect x="314.40" y="196.60" width="16.20" height="3.60" rx="1.80" fill="#141414" opacity="0.45"/>
<rect x="315.20" y="197.10" width="14.60" height="2.60" rx="1.30" fill="#141414"/>
<rect x="332.30" y="196.10" width="19.40" height="4.60" rx="2.30" fill="#242424" opacity="0.22"/>
<rect x="333.00" y="196.60" width="18.00" height="3.60" rx="1.80" fill="#242424" opacity="0.45"/>
<rect x="333.80" y="197.10" width="16.40" height="2.60" rx="1.30" fill="#242424"/>
<rect x="353.70" y="196.10" width="17.90" height="4.60" rx="2.30" fill="#141414" opacity="0.22"/>
<rect x="354.40" y="196.60" width="16.50" height="3.60" rx="1.80" fill="#141414" opacity="0.45"/>
<rect x="355.20" y="197.10" width="14.90" height="2.60" rx="1.30" fill="#141414"/>
<rect x="372.10" y="196.10" width="18.50" height="4.60" rx="2.30" fill="#181818" opacity="0.22"/>
<rect x="372.80" y="196.60" width="17.10" height="3.60" rx="1.80" fill="#181818" opacity="0.45"/>
<rect x="373.60" y="197.10" width="15.50" height="2.60" rx="1.30" fill="#181818"/>
<rect x="392.40" y="196.50" width="17.30" height="4.60" rx="2.30" fill="#242424" opacity="0.22"/>
<rect x="393.10" y="197.00" width="15.90" height="3.60" rx="1.80" fill="#242424" opacity="0.45"/>
<rect x="393.90" y="197.50" width="14.30" height="2.60" rx="1.30" fill="#242424"/>
<rect x="411.70" y="196.60" width="17.00" height="4.60" rx="2.30" fill="#141414" opacity="0.22"/>
<rect x="412.40" y="197.10" width="15.60" height="3.60" rx="1.80" fill="#141414" opacity="0.45"/>
<rect x="413.20" y="197.60" width="14.00" height="2.60" rx="1.30" fill="#141414"/>
<rect x="430.30" y="196.60" width="17.00" height="4.60" rx="2.30" fill="#303030" opacity="0.22"/>
<rect x="431.00" y="197.10" width="15.60" height="3.60" rx="1.80" fill="#303030" opacity="0.45"/>
<rect x="431.80" y="197.60" width="14.00" height="2.60" rx="1.30" fill="#303030"/>
<rect x="449.70" y="196.60" width="18.30" height="4.60" rx="2.30" fill="#303030" opacity="0.22"/>
<rect x="450.40" y="197.10" width="16.90" height="3.60" rx="1.80" fill="#303030" opacity="0.45"/>
<rect x="451.20" y="197.60" width="15.30" height="2.60" rx="1.30" fill="#303030"/>
</g></g>
<rect x="313.85" y="193.85" width="157.60" height="9.10" fill="none" stroke="#ececec" stroke-width="0.9" opacity="0.6"/>
<rect x="312.82" y="192.83" width="159.65" height="11.15" fill="none" stroke="#303030" stroke-width="1.05" />
<clipPath id="c17"><rect x="311.10" y="206.70" width="162.20" height="13.00"/></clipPath>
<rect x="311.10" y="206.70" width="162.20" height="13.00" fill="#a0a0a0" stroke="none" stroke-width="0" />
<g clip-path="url(#c17)"><g>
<path d="M313.90,211.11 Q322.45,210.99 331.00,211.11 Q331.60,212.85 331.00,214.59 Q322.45,219.11 313.90,214.59 Q313.30,212.85 313.90,211.11 Z" fill="#282828" stroke="#282828" stroke-width="1.40" stroke-opacity="0.45" stroke-linejoin="round"/>
<path d="M333.00,211.11 Q342.30,210.99 351.60,211.11 Q352.20,212.85 351.60,214.59 Q342.30,219.11 333.00,214.59 Q332.40,212.85 333.00,211.11 Z" fill="#2c2c2c" stroke="#2c2c2c" stroke-width="1.40" stroke-opacity="0.45" stroke-linejoin="round"/>
<path d="M354.60,211.11 Q362.80,210.99 371.00,211.11 Q371.60,212.85 371.00,214.59 Q362.80,219.11 354.60,214.59 Q354.00,212.85 354.60,211.11 Z" fill="#282828" stroke="#282828" stroke-width="1.40" stroke-opacity="0.45" stroke-linejoin="round"/>
<path d="M373.40,211.11 Q381.95,210.99 390.50,211.11 Q391.10,212.85 390.50,214.59 Q381.95,219.11 373.40,214.59 Q372.80,212.85 373.40,211.11 Z" fill="#2c2c2c" stroke="#2c2c2c" stroke-width="1.40" stroke-opacity="0.45" stroke-linejoin="round"/>
<path d="M392.80,211.11 Q401.20,210.99 409.60,211.11 Q410.20,212.85 409.60,214.59 Q401.20,219.11 392.80,214.59 Q392.20,212.85 392.80,211.11 Z" fill="#282828" stroke="#282828" stroke-width="1.40" stroke-opacity="0.45" stroke-linejoin="round"/>
<path d="M412.20,211.11 Q420.45,210.99 428.70,211.11 Q429.30,212.85 428.70,214.59 Q420.45,219.11 412.20,214.59 Q411.60,212.85 412.20,211.11 Z" fill="#282828" stroke="#282828" stroke-width="1.40" stroke-opacity="0.45" stroke-linejoin="round"/>
<path d="M431.30,211.11 Q439.50,210.99 447.70,211.11 Q448.30,212.85 447.70,214.59 Q439.50,219.11 431.30,214.59 Q430.70,212.85 431.30,211.11 Z" fill="#2c2c2c" stroke="#2c2c2c" stroke-width="1.40" stroke-opacity="0.45" stroke-linejoin="round"/>
<path d="M450.30,211.11 Q459.35,210.99 468.40,211.11 Q469.00,212.85 468.40,214.59 Q459.35,219.11 450.30,214.59 Q449.70,212.85 450.30,211.11 Z" fill="#2c2c2c" stroke="#2c2c2c" stroke-width="1.40" stroke-opacity="0.45" stroke-linejoin="round"/>
</g></g>
<rect x="312.65" y="208.25" width="159.10" height="9.90" fill="none" stroke="#ececec" stroke-width="0.9" opacity="0.6"/>
<rect x="311.62" y="207.22" width="161.15" height="11.95" fill="none" stroke="#303030" stroke-width="1.05" />
<text x="476.68" y="161.30" font-size="8.5" text-anchor="start" fill="#231f20" stroke="#231f20" stroke-width="0.28"  textLength="19.25" lengthAdjust="spacingAndGlyphs">Mcl-1</text>
<text x="476.68" y="182.80" font-size="8.5" text-anchor="start" fill="#231f20" stroke="#231f20" stroke-width="0.28"  textLength="20.75" lengthAdjust="spacingAndGlyphs">Pim-2</text>
<text x="476.68" y="200.10" font-size="8.5" text-anchor="start" fill="#231f20" stroke="#231f20" stroke-width="0.28"  textLength="26.55" lengthAdjust="spacingAndGlyphs">GAPDH</text>
<text x="476.68" y="215.80" font-size="8.5" text-anchor="start" fill="#231f20" stroke="#231f20" stroke-width="0.28"  textLength="24.85" lengthAdjust="spacingAndGlyphs">β-actin</text>
<rect x="39.50" y="298.50" width="20.00" height="87.00" fill="#3d4356" stroke="#111" stroke-width="1" />
<line x1="68.50" y1="354.50" x2="68.50" y2="348.50" stroke="#111" stroke-width="1"/>
<line x1="63.80" y1="348.50" x2="73.20" y2="348.50" stroke="#111" stroke-width="1"/>
<rect x="59.50" y="354.50" width="19.00" height="31.00" fill="#5e9f3f" stroke="#111" stroke-width="1" />
<line x1="88.50" y1="353.50" x2="88.50" y2="349.50" stroke="#111" stroke-width="1"/>
<line x1="83.80" y1="349.50" x2="93.20" y2="349.50" stroke="#111" stroke-width="1"/>
<rect x="78.50" y="353.50" width="20.00" height="32.00" fill="#a3b47a" stroke="#111" stroke-width="1" />
<line x1="108.50" y1="354.50" x2="108.50" y2="348.50" stroke="#111" stroke-width="1"/>
<line x1="103.80" y1="348.50" x2="113.20" y2="348.50" stroke="#111" stroke-width="1"/>
<rect x="98.50" y="354.50" width="19.00" height="31.00" fill="#bdbbc0" stroke="#111" stroke-width="1" />
<line x1="39.50" y1="293.40" x2="39.50" y2="386.10" stroke="#111" stroke-width="1.1"/>
<line x1="39.00" y1="385.50" x2="121.00" y2="385.50" stroke="#111" stroke-width="1.1"/>
<line x1="36.30" y1="385.50" x2="39.50" y2="385.50" stroke="#111" stroke-width="1"/>
<text x="33.50" y="387.95" font-size="7.9" text-anchor="end" fill="#231f20" stroke="#231f20" stroke-width="0.28"  textLength="10.79" lengthAdjust="spacingAndGlyphs">0.0</text>
<line x1="36.30" y1="368.50" x2="39.50" y2="368.50" stroke="#111" stroke-width="1"/>
<text x="33.50" y="370.95" font-size="7.9" text-anchor="end" fill="#231f20" stroke="#231f20" stroke-width="0.28"  textLength="10.79" lengthAdjust="spacingAndGlyphs">0.2</text>
<line x1="36.30" y1="350.50" x2="39.50" y2="350.50" stroke="#111" stroke-width="1"/>
<text x="33.50" y="352.95" font-size="7.9" text-anchor="end" fill="#231f20" stroke="#231f20" stroke-width="0.28"  textLength="10.79" lengthAdjust="spacingAndGlyphs">0.4</text>
<line x1="36.30" y1="333.50" x2="39.50" y2="333.50" stroke="#111" stroke-width="1"/>
<text x="33.50" y="335.95" font-size="7.9" text-anchor="end" fill="#231f20" stroke="#231f20" stroke-width="0.28"  textLength="10.79" lengthAdjust="spacingAndGlyphs">0.6</text>
<line x1="36.30" y1="316.50" x2="39.50" y2="316.50" stroke="#111" stroke-width="1"/>
<text x="33.50" y="318.95" font-size="7.9" text-anchor="end" fill="#231f20" stroke="#231f20" stroke-width="0.28"  textLength="10.79" lengthAdjust="spacingAndGlyphs">0.8</text>
<line x1="36.30" y1="298.50" x2="39.50" y2="298.50" stroke="#111" stroke-width="1"/>
<text x="33.50" y="300.95" font-size="7.9" text-anchor="end" fill="#231f20" stroke="#231f20" stroke-width="0.28"  textLength="10.79" lengthAdjust="spacingAndGlyphs">1.0</text>
<line x1="49.50" y1="385.50" x2="49.50" y2="388.70" stroke="#111" stroke-width="1"/>
<text x="49.30" y="399.10" font-size="8.0" text-anchor="middle" fill="#231f20" stroke="#231f20" stroke-width="0.28"  textLength="11.70" lengthAdjust="spacingAndGlyphs">Pre</text>
<line x1="68.50" y1="385.50" x2="68.50" y2="388.70" stroke="#111" stroke-width="1"/>
<text x="68.90" y="399.10" font-size="8.0" text-anchor="middle" fill="#231f20" stroke="#231f20" stroke-width="0.28"  textLength="13.50" lengthAdjust="spacingAndGlyphs">420</text>
<line x1="88.50" y1="385.50" x2="88.50" y2="388.70" stroke="#111" stroke-width="1"/>
<text x="88.50" y="399.10" font-size="8.0" text-anchor="middle" fill="#231f20" stroke="#231f20" stroke-width="0.28"  textLength="13.50" lengthAdjust="spacingAndGlyphs">280</text>
<line x1="108.50" y1="385.50" x2="108.50" y2="388.70" stroke="#111" stroke-width="1"/>
<text x="108.10" y="399.10" font-size="8.0" text-anchor="middle" fill="#231f20" stroke="#231f20" stroke-width="0.28"  textLength="13.50" lengthAdjust="spacingAndGlyphs">140</text>
<line x1="65.60" y1="404.50" x2="109.90" y2="404.50" stroke="#333" stroke-width="1"/>
<text x="87.75" y="414.00" font-size="8.0" text-anchor="middle" fill="#231f20" stroke="#231f20" stroke-width="0.28"  textLength="19.50" lengthAdjust="spacingAndGlyphs">mg/d</text>
<text x="15.70" y="339.00" font-size="9.4" text-anchor="middle" fill="#231f20" stroke="#231f20" stroke-width="0.28" textLength="50.14" lengthAdjust="spacingAndGlyphs" transform="rotate(-90 15.70 339.00)">BTK(Tyr223)</text>
<rect x="162.50" y="298.50" width="20.00" height="87.00" fill="#3d4356" stroke="#111" stroke-width="1" />
<line x1="192.50" y1="317.50" x2="192.50" y2="314.50" stroke="#111" stroke-width="1"/>
<line x1="187.80" y1="314.50" x2="197.20" y2="314.50" stroke="#111" stroke-width="1"/>
<rect x="182.50" y="317.50" width="19.00" height="68.00" fill="#5e9f3f" stroke="#111" stroke-width="1" />
<line x1="211.50" y1="320.50" x2="211.50" y2="315.50" stroke="#111" stroke-width="1"/>
<line x1="206.80" y1="315.50" x2="216.20" y2="315.50" stroke="#111" stroke-width="1"/>
<rect x="201.50" y="320.50" width="20.00" height="65.00" fill="#a3b47a" stroke="#111" stroke-width="1" />
<line x1="231.50" y1="328.50" x2="231.50" y2="324.50" stroke="#111" stroke-width="1"/>
<line x1="226.80" y1="324.50" x2="236.20" y2="324.50" stroke="#111" stroke-width="1"/>
<rect x="221.50" y="328.50" width="20.00" height="57.00" fill="#bdbbc0" stroke="#111" stroke-width="1" />
<line x1="162.50" y1="293.40" x2="162.50" y2="386.10" stroke="#111" stroke-width="1.1"/>
<line x1="162.00" y1="385.50" x2="244.00" y2="385.50" stroke="#111" stroke-width="1.1"/>
<line x1="159.30" y1="385.50" x2="162.50" y2="385.50" stroke="#111" stroke-width="1"/>
<text x="156.50" y="387.95" font-size="7.9" text-anchor="end" fill="#231f20" stroke="#231f20" stroke-width="0.28"  textLength="10.79" lengthAdjust="spacingAndGlyphs">0.0</text>
<line x1="159.30" y1="368.50" x2="162.50" y2="368.50" stroke="#111" stroke-width="1"/>
<text x="156.50" y="370.95" font-size="7.9" text-anchor="end" fill="#231f20" stroke="#231f20" stroke-width="0.28"  textLength="10.79" lengthAdjust="spacingAndGlyphs">0.2</text>
<line x1="159.30" y1="350.50" x2="162.50" y2="350.50" stroke="#111" stroke-width="1"/>
<text x="156.50" y="352.95" font-size="7.9" text-anchor="end" fill="#231f20" stroke="#231f20" stroke-width="0.28"  textLength="10.79" lengthAdjust="spacingAndGlyphs">0.4</text>
<line x1="159.30" y1="333.50" x2="162.50" y2="333.50" stroke="#111" stroke-width="1"/>
<text x="156.50" y="335.95" font-size="7.9" text-anchor="end" fill="#231f20" stroke="#231f20" stroke-width="0.28"  textLength="10.79" lengthAdjust="spacingAndGlyphs">0.6</text>
<line x1="159.30" y1="316.50" x2="162.50" y2="316.50" stroke="#111" stroke-width="1"/>
<text x="156.50" y="318.95" font-size="7.9" text-anchor="end" fill="#231f20" stroke="#231f20" stroke-width="0.28"  textLength="10.79" lengthAdjust="spacingAndGlyphs">0.8</text>
<line x1="159.30" y1="298.50" x2="162.50" y2="298.50" stroke="#111" stroke-width="1"/>
<text x="156.50" y="300.95" font-size="7.9" text-anchor="end" fill="#231f20" stroke="#231f20" stroke-width="0.28"  textLength="10.79" lengthAdjust="spacingAndGlyphs">1.0</text>
<line x1="172.50" y1="385.50" x2="172.50" y2="388.70" stroke="#111" stroke-width="1"/>
<text x="172.30" y="399.10" font-size="8.0" text-anchor="middle" fill="#231f20" stroke="#231f20" stroke-width="0.28"  textLength="11.70" lengthAdjust="spacingAndGlyphs">Pre</text>
<line x1="191.50" y1="385.50" x2="191.50" y2="388.70" stroke="#111" stroke-width="1"/>
<text x="191.90" y="399.10" font-size="8.0" text-anchor="middle" fill="#231f20" stroke="#231f20" stroke-width="0.28"  textLength="13.50" lengthAdjust="spacingAndGlyphs">420</text>
<line x1="211.50" y1="385.50" x2="211.50" y2="388.70" stroke="#111" stroke-width="1"/>
<text x="211.50" y="399.10" font-size="8.0" text-anchor="middle" fill="#231f20" stroke="#231f20" stroke-width="0.28"  textLength="13.50" lengthAdjust="spacingAndGlyphs">280</text>
<line x1="231.50" y1="385.50" x2="231.50" y2="388.70" stroke="#111" stroke-width="1"/>
<text x="231.10" y="399.10" font-size="8.0" text-anchor="middle" fill="#231f20" stroke="#231f20" stroke-width="0.28"  textLength="13.50" lengthAdjust="spacingAndGlyphs">140</text>
<line x1="188.60" y1="404.50" x2="232.90" y2="404.50" stroke="#333" stroke-width="1"/>
<text x="210.75" y="414.00" font-size="8.0" text-anchor="middle" fill="#231f20" stroke="#231f20" stroke-width="0.28"  textLength="19.50" lengthAdjust="spacingAndGlyphs">mg/d</text>
<text x="139.30" y="339.30" font-size="9.4" text-anchor="middle" fill="#231f20" stroke="#231f20" stroke-width="0.28" textLength="15.94" lengthAdjust="spacingAndGlyphs" transform="rotate(-90 139.30 339.30)">BTK</text>
<rect x="286.50" y="298.50" width="20.00" height="87.00" fill="#3d4356" stroke="#111" stroke-width="1" />
<line x1="316.50" y1="322.50" x2="316.50" y2="314.50" stroke="#111" stroke-width="1"/>
<line x1="311.80" y1="314.50" x2="321.20" y2="314.50" stroke="#111" stroke-width="1"/>
<rect x="306.50" y="322.50" width="20.00" height="63.00" fill="#5e9f3f" stroke="#111" stroke-width="1" />
<line x1="335.50" y1="322.50" x2="335.50" y2="314.50" stroke="#111" stroke-width="1"/>
<line x1="330.80" y1="314.50" x2="340.20" y2="314.50" stroke="#111" stroke-width="1"/>
<rect x="326.50" y="322.50" width="19.00" height="63.00" fill="#a3b47a" stroke="#111" stroke-width="1" />
<line x1="355.50" y1="335.50" x2="355.50" y2="328.50" stroke="#111" stroke-width="1"/>
<line x1="350.80" y1="328.50" x2="360.20" y2="328.50" stroke="#111" stroke-width="1"/>
<rect x="345.50" y="335.50" width="20.00" height="50.00" fill="#bdbbc0" stroke="#111" stroke-width="1" />
<line x1="286.50" y1="293.40" x2="286.50" y2="386.10" stroke="#111" stroke-width="1.1"/>
<line x1="286.00" y1="385.50" x2="368.00" y2="385.50" stroke="#111" stroke-width="1.1"/>
<line x1="283.30" y1="385.50" x2="286.50" y2="385.50" stroke="#111" stroke-width="1"/>
<text x="280.50" y="387.95" font-size="7.9" text-anchor="end" fill="#231f20" stroke="#231f20" stroke-width="0.28"  textLength="10.79" lengthAdjust="spacingAndGlyphs">0.0</text>
<line x1="283.30" y1="368.50" x2="286.50" y2="368.50" stroke="#111" stroke-width="1"/>
<text x="280.50" y="370.95" font-size="7.9" text-anchor="end" fill="#231f20" stroke="#231f20" stroke-width="0.28"  textLength="10.79" lengthAdjust="spacingAndGlyphs">0.2</text>
<line x1="283.30" y1="350.50" x2="286.50" y2="350.50" stroke="#111" stroke-width="1"/>
<text x="280.50" y="352.95" font-size="7.9" text-anchor="end" fill="#231f20" stroke="#231f20" stroke-width="0.28"  textLength="10.79" lengthAdjust="spacingAndGlyphs">0.4</text>
<line x1="283.30" y1="333.50" x2="286.50" y2="333.50" stroke="#111" stroke-width="1"/>
<text x="280.50" y="335.95" font-size="7.9" text-anchor="end" fill="#231f20" stroke="#231f20" stroke-width="0.28"  textLength="10.79" lengthAdjust="spacingAndGlyphs">0.6</text>
<line x1="283.30" y1="316.50" x2="286.50" y2="316.50" stroke="#111" stroke-width="1"/>
<text x="280.50" y="318.95" font-size="7.9" text-anchor="end" fill="#231f20" stroke="#231f20" stroke-width="0.28"  textLength="10.79" lengthAdjust="spacingAndGlyphs">0.8</text>
<line x1="283.30" y1="298.50" x2="286.50" y2="298.50" stroke="#111" stroke-width="1"/>
<text x="280.50" y="300.95" font-size="7.9" text-anchor="end" fill="#231f20" stroke="#231f20" stroke-width="0.28"  textLength="10.79" lengthAdjust="spacingAndGlyphs">1.0</text>
<line x1="296.50" y1="385.50" x2="296.50" y2="388.70" stroke="#111" stroke-width="1"/>
<text x="296.30" y="399.10" font-size="8.0" text-anchor="middle" fill="#231f20" stroke="#231f20" stroke-width="0.28"  textLength="11.70" lengthAdjust="spacingAndGlyphs">Pre</text>
<line x1="315.50" y1="385.50" x2="315.50" y2="388.70" stroke="#111" stroke-width="1"/>
<text x="315.90" y="399.10" font-size="8.0" text-anchor="middle" fill="#231f20" stroke="#231f20" stroke-width="0.28"  textLength="13.50" lengthAdjust="spacingAndGlyphs">420</text>
<line x1="335.50" y1="385.50" x2="335.50" y2="388.70" stroke="#111" stroke-width="1"/>
<text x="335.50" y="399.10" font-size="8.0" text-anchor="middle" fill="#231f20" stroke="#231f20" stroke-width="0.28"  textLength="13.50" lengthAdjust="spacingAndGlyphs">280</text>
<line x1="355.50" y1="385.50" x2="355.50" y2="388.70" stroke="#111" stroke-width="1"/>
<text x="355.10" y="399.10" font-size="8.0" text-anchor="middle" fill="#231f20" stroke="#231f20" stroke-width="0.28"  textLength="13.50" lengthAdjust="spacingAndGlyphs">140</text>
<line x1="312.60" y1="404.50" x2="356.90" y2="404.50" stroke="#333" stroke-width="1"/>
<text x="334.75" y="414.00" font-size="8.0" text-anchor="middle" fill="#231f20" stroke="#231f20" stroke-width="0.28"  textLength="19.50" lengthAdjust="spacingAndGlyphs">mg/d</text>
<text x="262.90" y="339.65" font-size="9.4" text-anchor="middle" fill="#231f20" stroke="#231f20" stroke-width="0.28" textLength="64.44" lengthAdjust="spacingAndGlyphs" transform="rotate(-90 262.90 339.65)">PLCγ2(Tyr1217)</text>
<rect x="415.50" y="298.50" width="20.00" height="87.00" fill="#3d4356" stroke="#111" stroke-width="1" />
<line x1="445.50" y1="333.50" x2="445.50" y2="326.50" stroke="#111" stroke-width="1"/>
<line x1="440.80" y1="326.50" x2="450.20" y2="326.50" stroke="#111" stroke-width="1"/>
<rect x="435.50" y="333.50" width="19.00" height="52.00" fill="#5e9f3f" stroke="#111" stroke-width="1" />
<line x1="464.50" y1="326.50" x2="464.50" y2="320.50" stroke="#111" stroke-width="1"/>
<line x1="459.80" y1="320.50" x2="469.20" y2="320.50" stroke="#111" stroke-width="1"/>
<rect x="454.50" y="326.50" width="20.00" height="59.00" fill="#a3b47a" stroke="#111" stroke-width="1" />
<line x1="484.50" y1="322.50" x2="484.50" y2="313.50" stroke="#111" stroke-width="1"/>
<line x1="479.80" y1="313.50" x2="489.20" y2="313.50" stroke="#111" stroke-width="1"/>
<rect x="474.50" y="322.50" width="20.00" height="63.00" fill="#bdbbc0" stroke="#111" stroke-width="1" />
<line x1="415.50" y1="293.30" x2="415.50" y2="386.10" stroke="#111" stroke-width="1.1"/>
<line x1="415.00" y1="385.50" x2="497.00" y2="385.50" stroke="#111" stroke-width="1.1"/>
<line x1="412.30" y1="385.50" x2="415.50" y2="385.50" stroke="#111" stroke-width="1"/>
<text x="409.50" y="387.95" font-size="7.9" text-anchor="end" fill="#231f20" stroke="#231f20" stroke-width="0.28"  textLength="10.79" lengthAdjust="spacingAndGlyphs">0.0</text>
<line x1="412.30" y1="368.50" x2="415.50" y2="368.50" stroke="#111" stroke-width="1"/>
<text x="409.50" y="370.95" font-size="7.9" text-anchor="end" fill="#231f20" stroke="#231f20" stroke-width="0.28"  textLength="10.79" lengthAdjust="spacingAndGlyphs">0.2</text>
<line x1="412.30" y1="350.50" x2="415.50" y2="350.50" stroke="#111" stroke-width="1"/>
<text x="409.50" y="352.95" font-size="7.9" text-anchor="end" fill="#231f20" stroke="#231f20" stroke-width="0.28"  textLength="10.79" lengthAdjust="spacingAndGlyphs">0.4</text>
<line x1="412.30" y1="333.50" x2="415.50" y2="333.50" stroke="#111" stroke-width="1"/>
<text x="409.50" y="335.95" font-size="7.9" text-anchor="end" fill="#231f20" stroke="#231f20" stroke-width="0.28"  textLength="10.79" lengthAdjust="spacingAndGlyphs">0.6</text>
<line x1="412.30" y1="315.50" x2="415.50" y2="315.50" stroke="#111" stroke-width="1"/>
<text x="409.50" y="317.95" font-size="7.9" text-anchor="end" fill="#231f20" stroke="#231f20" stroke-width="0.28"  textLength="10.79" lengthAdjust="spacingAndGlyphs">0.8</text>
<line x1="412.30" y1="298.50" x2="415.50" y2="298.50" stroke="#111" stroke-width="1"/>
<text x="409.50" y="300.95" font-size="7.9" text-anchor="end" fill="#231f20" stroke="#231f20" stroke-width="0.28"  textLength="10.79" lengthAdjust="spacingAndGlyphs">1.0</text>
<line x1="425.50" y1="385.50" x2="425.50" y2="388.70" stroke="#111" stroke-width="1"/>
<text x="425.30" y="399.10" font-size="8.0" text-anchor="middle" fill="#231f20" stroke="#231f20" stroke-width="0.28"  textLength="11.70" lengthAdjust="spacingAndGlyphs">Pre</text>
<line x1="444.50" y1="385.50" x2="444.50" y2="388.70" stroke="#111" stroke-width="1"/>
<text x="444.90" y="399.10" font-size="8.0" text-anchor="middle" fill="#231f20" stroke="#231f20" stroke-width="0.28"  textLength="13.50" lengthAdjust="spacingAndGlyphs">420</text>
<line x1="464.50" y1="385.50" x2="464.50" y2="388.70" stroke="#111" stroke-width="1"/>
<text x="464.50" y="399.10" font-size="8.0" text-anchor="middle" fill="#231f20" stroke="#231f20" stroke-width="0.28"  textLength="13.50" lengthAdjust="spacingAndGlyphs">280</text>
<line x1="484.50" y1="385.50" x2="484.50" y2="388.70" stroke="#111" stroke-width="1"/>
<text x="484.10" y="399.10" font-size="8.0" text-anchor="middle" fill="#231f20" stroke="#231f20" stroke-width="0.28"  textLength="13.50" lengthAdjust="spacingAndGlyphs">140</text>
<line x1="441.60" y1="404.50" x2="485.90" y2="404.50" stroke="#333" stroke-width="1"/>
<text x="463.75" y="414.00" font-size="8.0" text-anchor="middle" fill="#231f20" stroke="#231f20" stroke-width="0.28"  textLength="19.50" lengthAdjust="spacingAndGlyphs">mg/d</text>
<text x="392.80" y="339.45" font-size="9.4" text-anchor="middle" fill="#231f20" stroke="#231f20" stroke-width="0.28" textLength="21.24" lengthAdjust="spacingAndGlyphs" transform="rotate(-90 392.80 339.45)">Mcl-1</text>
<rect x="39.50" y="445.50" width="20.00" height="76.00" fill="#3d4356" stroke="#111" stroke-width="1" />
<line x1="68.50" y1="440.50" x2="68.50" y2="435.50" stroke="#111" stroke-width="1"/>
<line x1="63.80" y1="435.50" x2="73.20" y2="435.50" stroke="#111" stroke-width="1"/>
<rect x="59.50" y="440.50" width="19.00" height="81.00" fill="#5e9f3f" stroke="#111" stroke-width="1" />
<line x1="88.50" y1="443.50" x2="88.50" y2="434.50" stroke="#111" stroke-width="1"/>
<line x1="83.80" y1="434.50" x2="93.20" y2="434.50" stroke="#111" stroke-width="1"/>
<rect x="78.50" y="443.50" width="20.00" height="78.00" fill="#a3b47a" stroke="#111" stroke-width="1" />
<line x1="108.50" y1="440.50" x2="108.50" y2="436.50" stroke="#111" stroke-width="1"/>
<line x1="103.80" y1="436.50" x2="113.20" y2="436.50" stroke="#111" stroke-width="1"/>
<rect x="98.50" y="440.50" width="19.00" height="81.00" fill="#bdbbc0" stroke="#111" stroke-width="1" />
<line x1="39.50" y1="427.20" x2="39.50" y2="522.10" stroke="#111" stroke-width="1.1"/>
<line x1="39.00" y1="521.50" x2="121.00" y2="521.50" stroke="#111" stroke-width="1.1"/>
<line x1="36.30" y1="521.50" x2="39.50" y2="521.50" stroke="#111" stroke-width="1"/>
<text x="33.50" y="523.95" font-size="7.9" text-anchor="end" fill="#231f20" stroke="#231f20" stroke-width="0.28"  textLength="10.79" lengthAdjust="spacingAndGlyphs">0.0</text>
<line x1="36.30" y1="506.50" x2="39.50" y2="506.50" stroke="#111" stroke-width="1"/>
<text x="33.50" y="508.95" font-size="7.9" text-anchor="end" fill="#231f20" stroke="#231f20" stroke-width="0.28"  textLength="10.79" lengthAdjust="spacingAndGlyphs">0.2</text>
<line x1="36.30" y1="491.50" x2="39.50" y2="491.50" stroke="#111" stroke-width="1"/>
<text x="33.50" y="493.95" font-size="7.9" text-anchor="end" fill="#231f20" stroke="#231f20" stroke-width="0.28"  textLength="10.79" lengthAdjust="spacingAndGlyphs">0.4</text>
<line x1="36.30" y1="475.50" x2="39.50" y2="475.50" stroke="#111" stroke-width="1"/>
<text x="33.50" y="477.95" font-size="7.9" text-anchor="end" fill="#231f20" stroke="#231f20" stroke-width="0.28"  textLength="10.79" lengthAdjust="spacingAndGlyphs">0.6</text>
<line x1="36.30" y1="460.50" x2="39.50" y2="460.50" stroke="#111" stroke-width="1"/>
<text x="33.50" y="462.95" font-size="7.9" text-anchor="end" fill="#231f20" stroke="#231f20" stroke-width="0.28"  textLength="10.79" lengthAdjust="spacingAndGlyphs">0.8</text>
<line x1="36.30" y1="445.50" x2="39.50" y2="445.50" stroke="#111" stroke-width="1"/>
<text x="33.50" y="447.95" font-size="7.9" text-anchor="end" fill="#231f20" stroke="#231f20" stroke-width="0.28"  textLength="10.79" lengthAdjust="spacingAndGlyphs">1.0</text>
<line x1="36.30" y1="430.50" x2="39.50" y2="430.50" stroke="#111" stroke-width="1"/>
<text x="33.50" y="432.95" font-size="7.9" text-anchor="end" fill="#231f20" stroke="#231f20" stroke-width="0.28"  textLength="10.79" lengthAdjust="spacingAndGlyphs">1.2</text>
<line x1="49.50" y1="521.50" x2="49.50" y2="524.70" stroke="#111" stroke-width="1"/>
<text x="49.30" y="535.10" font-size="8.0" text-anchor="middle" fill="#231f20" stroke="#231f20" stroke-width="0.28"  textLength="11.70" lengthAdjust="spacingAndGlyphs">Pre</text>
<line x1="68.50" y1="521.50" x2="68.50" y2="524.70" stroke="#111" stroke-width="1"/>
<text x="68.90" y="535.10" font-size="8.0" text-anchor="middle" fill="#231f20" stroke="#231f20" stroke-width="0.28"  textLength="13.50" lengthAdjust="spacingAndGlyphs">420</text>
<line x1="88.50" y1="521.50" x2="88.50" y2="524.70" stroke="#111" stroke-width="1"/>
<text x="88.50" y="535.10" font-size="8.0" text-anchor="middle" fill="#231f20" stroke="#231f20" stroke-width="0.28"  textLength="13.50" lengthAdjust="spacingAndGlyphs">280</text>
<line x1="108.50" y1="521.50" x2="108.50" y2="524.70" stroke="#111" stroke-width="1"/>
<text x="108.10" y="535.10" font-size="8.0" text-anchor="middle" fill="#231f20" stroke="#231f20" stroke-width="0.28"  textLength="13.50" lengthAdjust="spacingAndGlyphs">140</text>
<line x1="65.60" y1="540.50" x2="109.90" y2="540.50" stroke="#333" stroke-width="1"/>
<text x="87.75" y="550.00" font-size="8.0" text-anchor="middle" fill="#231f20" stroke="#231f20" stroke-width="0.28"  textLength="19.50" lengthAdjust="spacingAndGlyphs">mg/d</text>
<text x="16.50" y="473.90" font-size="9.4" text-anchor="middle" fill="#231f20" stroke="#231f20" stroke-width="0.28" textLength="24.54" lengthAdjust="spacingAndGlyphs" transform="rotate(-90 16.50 473.90)">PLCγ2</text>
<rect x="162.50" y="466.50" width="20.00" height="55.00" fill="#3d4356" stroke="#111" stroke-width="1" />
<line x1="192.50" y1="453.50" x2="192.50" y2="449.50" stroke="#111" stroke-width="1"/>
<line x1="187.80" y1="449.50" x2="197.20" y2="449.50" stroke="#111" stroke-width="1"/>
<rect x="182.50" y="453.50" width="19.00" height="68.00" fill="#5e9f3f" stroke="#111" stroke-width="1" />
<line x1="211.50" y1="450.50" x2="211.50" y2="446.50" stroke="#111" stroke-width="1"/>
<line x1="206.80" y1="446.50" x2="216.20" y2="446.50" stroke="#111" stroke-width="1"/>
<rect x="201.50" y="450.50" width="20.00" height="71.00" fill="#a3b47a" stroke="#111" stroke-width="1" />
<line x1="231.50" y1="443.50" x2="231.50" y2="433.50" stroke="#111" stroke-width="1"/>
<line x1="226.80" y1="433.50" x2="236.20" y2="433.50" stroke="#111" stroke-width="1"/>
<rect x="221.50" y="443.50" width="20.00" height="78.00" fill="#bdbbc0" stroke="#111" stroke-width="1" />
<line x1="162.50" y1="430.60" x2="162.50" y2="522.10" stroke="#111" stroke-width="1.1"/>
<line x1="162.00" y1="521.50" x2="244.00" y2="521.50" stroke="#111" stroke-width="1.1"/>
<line x1="159.30" y1="521.50" x2="162.50" y2="521.50" stroke="#111" stroke-width="1"/>
<text x="156.50" y="523.95" font-size="7.9" text-anchor="end" fill="#231f20" stroke="#231f20" stroke-width="0.28"  textLength="10.79" lengthAdjust="spacingAndGlyphs">0.0</text>
<line x1="159.30" y1="510.50" x2="162.50" y2="510.50" stroke="#111" stroke-width="1"/>
<text x="156.50" y="512.95" font-size="7.9" text-anchor="end" fill="#231f20" stroke="#231f20" stroke-width="0.28"  textLength="10.79" lengthAdjust="spacingAndGlyphs">0.2</text>
<line x1="159.30" y1="499.50" x2="162.50" y2="499.50" stroke="#111" stroke-width="1"/>
<text x="156.50" y="501.95" font-size="7.9" text-anchor="end" fill="#231f20" stroke="#231f20" stroke-width="0.28"  textLength="10.79" lengthAdjust="spacingAndGlyphs">0.4</text>
<line x1="159.30" y1="488.50" x2="162.50" y2="488.50" stroke="#111" stroke-width="1"/>
<text x="156.50" y="490.95" font-size="7.9" text-anchor="end" fill="#231f20" stroke="#231f20" stroke-width="0.28"  textLength="10.79" lengthAdjust="spacingAndGlyphs">0.6</text>
<line x1="159.30" y1="477.50" x2="162.50" y2="477.50" stroke="#111" stroke-width="1"/>
<text x="156.50" y="479.95" font-size="7.9" text-anchor="end" fill="#231f20" stroke="#231f20" stroke-width="0.28"  textLength="10.79" lengthAdjust="spacingAndGlyphs">0.8</text>
<line x1="159.30" y1="466.50" x2="162.50" y2="466.50" stroke="#111" stroke-width="1"/>
<text x="156.50" y="468.95" font-size="7.9" text-anchor="end" fill="#231f20" stroke="#231f20" stroke-width="0.28"  textLength="10.79" lengthAdjust="spacingAndGlyphs">1.0</text>
<line x1="159.30" y1="455.50" x2="162.50" y2="455.50" stroke="#111" stroke-width="1"/>
<text x="156.50" y="457.95" font-size="7.9" text-anchor="end" fill="#231f20" stroke="#231f20" stroke-width="0.28"  textLength="10.79" lengthAdjust="spacingAndGlyphs">1.2</text>
<line x1="159.30" y1="443.50" x2="162.50" y2="443.50" stroke="#111" stroke-width="1"/>
<text x="156.50" y="445.95" font-size="7.9" text-anchor="end" fill="#231f20" stroke="#231f20" stroke-width="0.28"  textLength="10.79" lengthAdjust="spacingAndGlyphs">1.4</text>
<line x1="159.30" y1="432.50" x2="162.50" y2="432.50" stroke="#111" stroke-width="1"/>
<text x="156.50" y="434.95" font-size="7.9" text-anchor="end" fill="#231f20" stroke="#231f20" stroke-width="0.28"  textLength="10.79" lengthAdjust="spacingAndGlyphs">1.6</text>
<line x1="172.50" y1="521.50" x2="172.50" y2="524.70" stroke="#111" stroke-width="1"/>
<text x="172.30" y="535.10" font-size="8.0" text-anchor="middle" fill="#231f20" stroke="#231f20" stroke-width="0.28"  textLength="11.70" lengthAdjust="spacingAndGlyphs">Pre</text>
<line x1="191.50" y1="521.50" x2="191.50" y2="524.70" stroke="#111" stroke-width="1"/>
<text x="191.90" y="535.10" font-size="8.0" text-anchor="middle" fill="#231f20" stroke="#231f20" stroke-width="0.28"  textLength="13.50" lengthAdjust="spacingAndGlyphs">420</text>
<line x1="211.50" y1="521.50" x2="211.50" y2="524.70" stroke="#111" stroke-width="1"/>
<text x="211.50" y="535.10" font-size="8.0" text-anchor="middle" fill="#231f20" stroke="#231f20" stroke-width="0.28"  textLength="13.50" lengthAdjust="spacingAndGlyphs">280</text>
<line x1="231.50" y1="521.50" x2="231.50" y2="524.70" stroke="#111" stroke-width="1"/>
<text x="231.10" y="535.10" font-size="8.0" text-anchor="middle" fill="#231f20" stroke="#231f20" stroke-width="0.28"  textLength="13.50" lengthAdjust="spacingAndGlyphs">140</text>
<line x1="188.60" y1="540.50" x2="232.90" y2="540.50" stroke="#333" stroke-width="1"/>
<text x="210.75" y="550.00" font-size="8.0" text-anchor="middle" fill="#231f20" stroke="#231f20" stroke-width="0.28"  textLength="19.50" lengthAdjust="spacingAndGlyphs">mg/d</text>
<text x="139.30" y="476.10" font-size="9.4" text-anchor="middle" fill="#231f20" stroke="#231f20" stroke-width="0.28" textLength="20.94" lengthAdjust="spacingAndGlyphs" transform="rotate(-90 139.30 476.10)">Bcl-2</text>
<rect x="286.50" y="487.50" width="19.00" height="34.00" fill="#3d4356" stroke="#111" stroke-width="1" />
<line x1="315.50" y1="462.50" x2="315.50" y2="455.50" stroke="#111" stroke-width="1"/>
<line x1="310.80" y1="455.50" x2="320.20" y2="455.50" stroke="#111" stroke-width="1"/>
<rect x="305.50" y="462.50" width="20.00" height="59.00" fill="#5e9f3f" stroke="#111" stroke-width="1" />
<line x1="335.50" y1="458.50" x2="335.50" y2="450.50" stroke="#111" stroke-width="1"/>
<line x1="330.80" y1="450.50" x2="340.20" y2="450.50" stroke="#111" stroke-width="1"/>
<rect x="325.50" y="458.50" width="20.00" height="63.00" fill="#a3b47a" stroke="#111" stroke-width="1" />
<line x1="354.50" y1="452.50" x2="354.50" y2="435.50" stroke="#111" stroke-width="1"/>
<line x1="349.80" y1="435.50" x2="359.20" y2="435.50" stroke="#111" stroke-width="1"/>
<rect x="345.50" y="452.50" width="19.00" height="69.00" fill="#bdbbc0" stroke="#111" stroke-width="1" />
<line x1="286.50" y1="430.60" x2="286.50" y2="522.10" stroke="#111" stroke-width="1.1"/>
<line x1="286.00" y1="521.50" x2="368.00" y2="521.50" stroke="#111" stroke-width="1.1"/>
<line x1="283.30" y1="521.50" x2="286.50" y2="521.50" stroke="#111" stroke-width="1"/>
<text x="280.50" y="523.95" font-size="7.9" text-anchor="end" fill="#231f20" stroke="#231f20" stroke-width="0.28"  textLength="10.79" lengthAdjust="spacingAndGlyphs">0.0</text>
<line x1="283.30" y1="504.50" x2="286.50" y2="504.50" stroke="#111" stroke-width="1"/>
<text x="280.50" y="506.95" font-size="7.9" text-anchor="end" fill="#231f20" stroke="#231f20" stroke-width="0.28"  textLength="10.79" lengthAdjust="spacingAndGlyphs">0.5</text>
<line x1="283.30" y1="487.50" x2="286.50" y2="487.50" stroke="#111" stroke-width="1"/>
<text x="280.50" y="489.95" font-size="7.9" text-anchor="end" fill="#231f20" stroke="#231f20" stroke-width="0.28"  textLength="10.79" lengthAdjust="spacingAndGlyphs">1.0</text>
<line x1="283.30" y1="470.50" x2="286.50" y2="470.50" stroke="#111" stroke-width="1"/>
<text x="280.50" y="472.95" font-size="7.9" text-anchor="end" fill="#231f20" stroke="#231f20" stroke-width="0.28"  textLength="10.79" lengthAdjust="spacingAndGlyphs">1.5</text>
<line x1="283.30" y1="453.50" x2="286.50" y2="453.50" stroke="#111" stroke-width="1"/>
<text x="280.50" y="455.95" font-size="7.9" text-anchor="end" fill="#231f20" stroke="#231f20" stroke-width="0.28"  textLength="10.79" lengthAdjust="spacingAndGlyphs">2.0</text>
<line x1="283.30" y1="436.50" x2="286.50" y2="436.50" stroke="#111" stroke-width="1"/>
<text x="280.50" y="438.95" font-size="7.9" text-anchor="end" fill="#231f20" stroke="#231f20" stroke-width="0.28"  textLength="10.79" lengthAdjust="spacingAndGlyphs">2.5</text>
<line x1="296.50" y1="521.50" x2="296.50" y2="524.70" stroke="#111" stroke-width="1"/>
<text x="296.30" y="535.10" font-size="8.0" text-anchor="middle" fill="#231f20" stroke="#231f20" stroke-width="0.28"  textLength="11.70" lengthAdjust="spacingAndGlyphs">Pre</text>
<line x1="315.50" y1="521.50" x2="315.50" y2="524.70" stroke="#111" stroke-width="1"/>
<text x="315.90" y="535.10" font-size="8.0" text-anchor="middle" fill="#231f20" stroke="#231f20" stroke-width="0.28"  textLength="13.50" lengthAdjust="spacingAndGlyphs">420</text>
<line x1="335.50" y1="521.50" x2="335.50" y2="524.70" stroke="#111" stroke-width="1"/>
<text x="335.50" y="535.10" font-size="8.0" text-anchor="middle" fill="#231f20" stroke="#231f20" stroke-width="0.28"  textLength="13.50" lengthAdjust="spacingAndGlyphs">280</text>
<line x1="355.50" y1="521.50" x2="355.50" y2="524.70" stroke="#111" stroke-width="1"/>
<text x="355.10" y="535.10" font-size="8.0" text-anchor="middle" fill="#231f20" stroke="#231f20" stroke-width="0.28"  textLength="13.50" lengthAdjust="spacingAndGlyphs">140</text>
<line x1="312.60" y1="540.50" x2="356.90" y2="540.50" stroke="#333" stroke-width="1"/>
<text x="334.75" y="550.00" font-size="8.0" text-anchor="middle" fill="#231f20" stroke="#231f20" stroke-width="0.28"  textLength="19.50" lengthAdjust="spacingAndGlyphs">mg/d</text>
<text x="263.20" y="475.70" font-size="9.4" text-anchor="middle" fill="#231f20" stroke="#231f20" stroke-width="0.28" textLength="15.94" lengthAdjust="spacingAndGlyphs" transform="rotate(-90 263.20 475.70)">Bim</text>
<rect x="416.50" y="435.50" width="19.00" height="86.00" fill="#3d4356" stroke="#111" stroke-width="1" />
<line x1="445.50" y1="459.50" x2="445.50" y2="451.50" stroke="#111" stroke-width="1"/>
<line x1="440.80" y1="451.50" x2="450.20" y2="451.50" stroke="#111" stroke-width="1"/>
<rect x="435.50" y="459.50" width="20.00" height="62.00" fill="#5e9f3f" stroke="#111" stroke-width="1" />
<line x1="465.50" y1="461.50" x2="465.50" y2="457.50" stroke="#111" stroke-width="1"/>
<line x1="460.80" y1="457.50" x2="470.20" y2="457.50" stroke="#111" stroke-width="1"/>
<rect x="455.50" y="461.50" width="19.00" height="60.00" fill="#a3b47a" stroke="#111" stroke-width="1" />
<line x1="484.50" y1="463.50" x2="484.50" y2="457.50" stroke="#111" stroke-width="1"/>
<line x1="479.80" y1="457.50" x2="489.20" y2="457.50" stroke="#111" stroke-width="1"/>
<rect x="474.50" y="463.50" width="20.00" height="58.00" fill="#bdbbc0" stroke="#111" stroke-width="1" />
<line x1="416.50" y1="430.80" x2="416.50" y2="522.10" stroke="#111" stroke-width="1.1"/>
<line x1="416.00" y1="521.50" x2="498.00" y2="521.50" stroke="#111" stroke-width="1.1"/>
<line x1="413.30" y1="521.50" x2="416.50" y2="521.50" stroke="#111" stroke-width="1"/>
<text x="410.50" y="523.95" font-size="7.9" text-anchor="end" fill="#231f20" stroke="#231f20" stroke-width="0.28"  textLength="10.79" lengthAdjust="spacingAndGlyphs">0.0</text>
<line x1="413.30" y1="504.50" x2="416.50" y2="504.50" stroke="#111" stroke-width="1"/>
<text x="410.50" y="506.95" font-size="7.9" text-anchor="end" fill="#231f20" stroke="#231f20" stroke-width="0.28"  textLength="10.79" lengthAdjust="spacingAndGlyphs">0.2</text>
<line x1="413.30" y1="486.50" x2="416.50" y2="486.50" stroke="#111" stroke-width="1"/>
<text x="410.50" y="488.95" font-size="7.9" text-anchor="end" fill="#231f20" stroke="#231f20" stroke-width="0.28"  textLength="10.79" lengthAdjust="spacingAndGlyphs">0.4</text>
<line x1="413.30" y1="469.50" x2="416.50" y2="469.50" stroke="#111" stroke-width="1"/>
<text x="410.50" y="471.95" font-size="7.9" text-anchor="end" fill="#231f20" stroke="#231f20" stroke-width="0.28"  textLength="10.79" lengthAdjust="spacingAndGlyphs">0.6</text>
<line x1="413.30" y1="452.50" x2="416.50" y2="452.50" stroke="#111" stroke-width="1"/>
<text x="410.50" y="454.95" font-size="7.9" text-anchor="end" fill="#231f20" stroke="#231f20" stroke-width="0.28"  textLength="10.79" lengthAdjust="spacingAndGlyphs">0.8</text>
<line x1="413.30" y1="434.50" x2="416.50" y2="434.50" stroke="#111" stroke-width="1"/>
<text x="410.50" y="436.95" font-size="7.9" text-anchor="end" fill="#231f20" stroke="#231f20" stroke-width="0.28"  textLength="10.79" lengthAdjust="spacingAndGlyphs">1.0</text>
<line x1="426.50" y1="521.50" x2="426.50" y2="524.70" stroke="#111" stroke-width="1"/>
<text x="426.30" y="535.10" font-size="8.0" text-anchor="middle" fill="#231f20" stroke="#231f20" stroke-width="0.28"  textLength="11.70" lengthAdjust="spacingAndGlyphs">Pre</text>
<line x1="445.50" y1="521.50" x2="445.50" y2="524.70" stroke="#111" stroke-width="1"/>
<text x="445.90" y="535.10" font-size="8.0" text-anchor="middle" fill="#231f20" stroke="#231f20" stroke-width="0.28"  textLength="13.50" lengthAdjust="spacingAndGlyphs">420</text>
<line x1="465.50" y1="521.50" x2="465.50" y2="524.70" stroke="#111" stroke-width="1"/>
<text x="465.50" y="535.10" font-size="8.0" text-anchor="middle" fill="#231f20" stroke="#231f20" stroke-width="0.28"  textLength="13.50" lengthAdjust="spacingAndGlyphs">280</text>
<line x1="485.50" y1="521.50" x2="485.50" y2="524.70" stroke="#111" stroke-width="1"/>
<text x="485.10" y="535.10" font-size="8.0" text-anchor="middle" fill="#231f20" stroke="#231f20" stroke-width="0.28"  textLength="13.50" lengthAdjust="spacingAndGlyphs">140</text>
<line x1="442.60" y1="540.50" x2="486.90" y2="540.50" stroke="#333" stroke-width="1"/>
<text x="464.75" y="550.00" font-size="8.0" text-anchor="middle" fill="#231f20" stroke="#231f20" stroke-width="0.28"  textLength="19.50" lengthAdjust="spacingAndGlyphs">mg/d</text>
<text x="392.80" y="475.70" font-size="9.4" text-anchor="middle" fill="#231f20" stroke="#231f20" stroke-width="0.28" textLength="23.14" lengthAdjust="spacingAndGlyphs" transform="rotate(-90 392.80 475.70)">Pim-2</text>
<line x1="375.90" y1="294.00" x2="375.90" y2="540.80" stroke="#3a3a3a" stroke-width="1.5"/>
</svg></body></html>
